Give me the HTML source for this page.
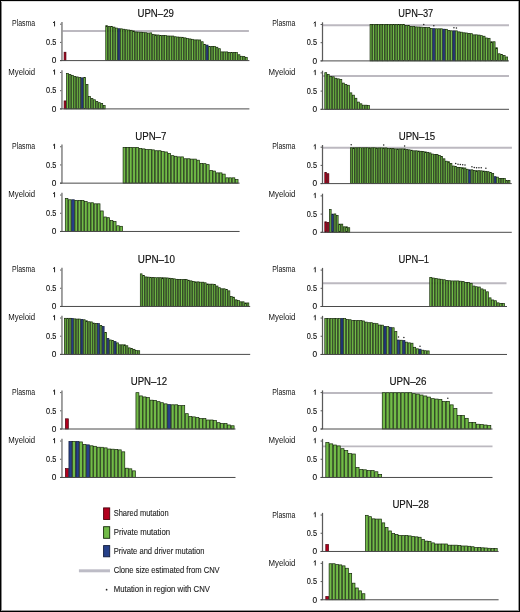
<!DOCTYPE html>
<html><head><meta charset="utf-8"><style>
html,body{margin:0;padding:0;background:#fff;}
body{width:520px;height:612px;overflow:hidden;position:relative;}
svg{display:block;font-family:"Liberation Sans", sans-serif;}
#c{will-change:transform;}
#f{position:absolute;left:0;top:0;}
</style></head><body>
<svg id="c" width="520" height="612" viewBox="0 0 520 612">

<g>
<rect x="0" y="0" width="520" height="612" fill="#fff"/>
<text x="155.7" y="16.8" text-anchor="middle" font-size="10" textLength="36.37" lengthAdjust="spacingAndGlyphs" fill="#111" stroke="#111" stroke-width="0.15">UPN–29</text>
<text x="35.2" y="25.9" text-anchor="end" font-size="8.5" textLength="23.2" lengthAdjust="spacingAndGlyphs" fill="#111">Plasma</text>
<path d="M54.55 21.45V26.4M54.65 21.5L53 22.9" fill="none" stroke="#1a1a1a" stroke-width="0.95"/>
<line x1="60.05" y1="24.2" x2="61.95" y2="24.2" stroke="#444" stroke-width="0.9"/>
<text x="56.3" y="45.15" text-anchor="end" font-size="8.3" fill="#111" stroke="#111" stroke-width="0.12" textLength="10.2" lengthAdjust="spacingAndGlyphs">0.5</text>
<line x1="60.05" y1="42.4" x2="61.95" y2="42.4" stroke="#444" stroke-width="0.9"/>
<text x="56.3" y="63.35" text-anchor="end" font-size="8.3" fill="#111" stroke="#111" stroke-width="0.12">0</text>
<line x1="60.05" y1="60.6" x2="61.95" y2="60.6" stroke="#444" stroke-width="0.9"/>
<line x1="62.45" y1="30.97" x2="248.9" y2="30.97" stroke="#bcb9c0" stroke-width="1.9"/>
<rect x="64.1" y="52.23" width="1.85" height="8.37" fill="#b2001e" stroke="#4a000c" stroke-width="0.7"/>
<rect x="105.75" y="25.66" width="1.85" height="34.94" fill="#72bb48" stroke="#132808" stroke-width="0.7"/>
<rect x="108.2" y="26.32" width="1.85" height="34.28" fill="#72bb48" stroke="#132808" stroke-width="0.7"/>
<rect x="110.65" y="26.61" width="1.85" height="33.99" fill="#72bb48" stroke="#132808" stroke-width="0.7"/>
<rect x="113.1" y="27.12" width="1.85" height="33.48" fill="#72bb48" stroke="#132808" stroke-width="0.7"/>
<rect x="115.55" y="28.06" width="1.85" height="32.54" fill="#72bb48" stroke="#132808" stroke-width="0.7"/>
<rect x="118" y="28.72" width="1.85" height="31.88" fill="#27418a" stroke="#101a3a" stroke-width="0.7"/>
<rect x="120.45" y="28.83" width="1.85" height="31.77" fill="#72bb48" stroke="#132808" stroke-width="0.7"/>
<rect x="122.9" y="29.23" width="1.85" height="31.37" fill="#72bb48" stroke="#132808" stroke-width="0.7"/>
<rect x="125.35" y="29.7" width="1.85" height="30.9" fill="#72bb48" stroke="#132808" stroke-width="0.7"/>
<rect x="127.8" y="29.99" width="1.85" height="30.61" fill="#72bb48" stroke="#132808" stroke-width="0.7"/>
<rect x="130.25" y="30.28" width="1.85" height="30.32" fill="#72bb48" stroke="#132808" stroke-width="0.7"/>
<rect x="132.7" y="30.94" width="1.85" height="29.66" fill="#72bb48" stroke="#132808" stroke-width="0.7"/>
<rect x="135.15" y="31.92" width="1.85" height="28.68" fill="#72bb48" stroke="#132808" stroke-width="0.7"/>
<rect x="137.6" y="32.1" width="1.85" height="28.5" fill="#72bb48" stroke="#132808" stroke-width="0.7"/>
<rect x="140.05" y="32.21" width="1.85" height="28.39" fill="#72bb48" stroke="#132808" stroke-width="0.7"/>
<rect x="142.5" y="32.58" width="1.85" height="28.02" fill="#72bb48" stroke="#132808" stroke-width="0.7"/>
<rect x="144.95" y="32.69" width="1.85" height="27.91" fill="#72bb48" stroke="#132808" stroke-width="0.7"/>
<rect x="147.4" y="33.05" width="1.85" height="27.55" fill="#72bb48" stroke="#132808" stroke-width="0.7"/>
<rect x="149.85" y="32.87" width="1.85" height="27.73" fill="#72bb48" stroke="#132808" stroke-width="0.7"/>
<rect x="152.3" y="34.32" width="1.85" height="26.28" fill="#72bb48" stroke="#132808" stroke-width="0.7"/>
<rect x="154.75" y="34.8" width="1.85" height="25.8" fill="#72bb48" stroke="#132808" stroke-width="0.7"/>
<rect x="157.2" y="34.98" width="1.85" height="25.62" fill="#72bb48" stroke="#132808" stroke-width="0.7"/>
<rect x="159.65" y="35.45" width="1.85" height="25.15" fill="#72bb48" stroke="#132808" stroke-width="0.7"/>
<rect x="162.1" y="35.56" width="1.85" height="25.04" fill="#72bb48" stroke="#132808" stroke-width="0.7"/>
<rect x="164.55" y="35.56" width="1.85" height="25.04" fill="#72bb48" stroke="#132808" stroke-width="0.7"/>
<rect x="167" y="35.96" width="1.85" height="24.64" fill="#72bb48" stroke="#132808" stroke-width="0.7"/>
<rect x="169.45" y="36.03" width="1.85" height="24.57" fill="#72bb48" stroke="#132808" stroke-width="0.7"/>
<rect x="171.9" y="36.03" width="1.85" height="24.57" fill="#72bb48" stroke="#132808" stroke-width="0.7"/>
<rect x="174.35" y="36.73" width="1.85" height="23.87" fill="#72bb48" stroke="#132808" stroke-width="0.7"/>
<rect x="176.8" y="37.02" width="1.85" height="23.58" fill="#72bb48" stroke="#132808" stroke-width="0.7"/>
<rect x="179.25" y="37.2" width="1.85" height="23.4" fill="#72bb48" stroke="#132808" stroke-width="0.7"/>
<rect x="181.7" y="37.31" width="1.85" height="23.29" fill="#72bb48" stroke="#132808" stroke-width="0.7"/>
<rect x="184.15" y="37.85" width="1.85" height="22.75" fill="#72bb48" stroke="#132808" stroke-width="0.7"/>
<rect x="186.6" y="38.62" width="1.85" height="21.98" fill="#72bb48" stroke="#132808" stroke-width="0.7"/>
<rect x="189.05" y="38.91" width="1.85" height="21.69" fill="#72bb48" stroke="#132808" stroke-width="0.7"/>
<rect x="191.5" y="39.31" width="1.85" height="21.29" fill="#72bb48" stroke="#132808" stroke-width="0.7"/>
<rect x="193.95" y="39.89" width="1.85" height="20.71" fill="#72bb48" stroke="#132808" stroke-width="0.7"/>
<rect x="196.4" y="39.89" width="1.85" height="20.71" fill="#72bb48" stroke="#132808" stroke-width="0.7"/>
<rect x="198.85" y="39.97" width="1.85" height="20.63" fill="#72bb48" stroke="#132808" stroke-width="0.7"/>
<rect x="201.3" y="41.75" width="1.85" height="18.85" fill="#72bb48" stroke="#132808" stroke-width="0.7"/>
<rect x="203.75" y="44.33" width="1.85" height="16.27" fill="#72bb48" stroke="#132808" stroke-width="0.7"/>
<rect x="206.2" y="45.06" width="1.85" height="15.54" fill="#27418a" stroke="#101a3a" stroke-width="0.7"/>
<rect x="208.65" y="46.41" width="1.85" height="14.19" fill="#72bb48" stroke="#132808" stroke-width="0.7"/>
<rect x="211.1" y="46.41" width="1.85" height="14.19" fill="#72bb48" stroke="#132808" stroke-width="0.7"/>
<rect x="213.55" y="46.41" width="1.85" height="14.19" fill="#72bb48" stroke="#132808" stroke-width="0.7"/>
<rect x="216" y="47.25" width="1.85" height="13.35" fill="#72bb48" stroke="#132808" stroke-width="0.7"/>
<rect x="218.45" y="48.7" width="1.85" height="11.9" fill="#72bb48" stroke="#132808" stroke-width="0.7"/>
<rect x="220.9" y="51.9" width="1.85" height="8.7" fill="#72bb48" stroke="#132808" stroke-width="0.7"/>
<rect x="223.35" y="51.9" width="1.85" height="8.7" fill="#72bb48" stroke="#132808" stroke-width="0.7"/>
<rect x="225.8" y="51.9" width="1.85" height="8.7" fill="#72bb48" stroke="#132808" stroke-width="0.7"/>
<rect x="228.25" y="52.45" width="1.85" height="8.15" fill="#72bb48" stroke="#132808" stroke-width="0.7"/>
<rect x="230.7" y="52.45" width="1.85" height="8.15" fill="#72bb48" stroke="#132808" stroke-width="0.7"/>
<rect x="233.15" y="52.45" width="1.85" height="8.15" fill="#72bb48" stroke="#132808" stroke-width="0.7"/>
<rect x="235.6" y="52.63" width="1.85" height="7.97" fill="#72bb48" stroke="#132808" stroke-width="0.7"/>
<rect x="238.05" y="54.74" width="1.85" height="5.86" fill="#72bb48" stroke="#132808" stroke-width="0.7"/>
<rect x="240.5" y="56.27" width="1.85" height="4.33" fill="#72bb48" stroke="#132808" stroke-width="0.7"/>
<rect x="242.95" y="56.6" width="1.85" height="4" fill="#72bb48" stroke="#132808" stroke-width="0.7"/>
<rect x="245.4" y="57.33" width="1.85" height="3.27" fill="#72bb48" stroke="#132808" stroke-width="0.7"/>
<line x1="61.95" y1="22" x2="61.95" y2="60.6" stroke="#8a8a8a" stroke-width="1.6"/>
<line x1="60.05" y1="60.6" x2="249.4" y2="60.6" stroke="#4a4a4a" stroke-width="1"/>
<text x="35.2" y="74.9" text-anchor="end" font-size="8.5" textLength="26.9" lengthAdjust="spacingAndGlyphs" fill="#111">Myeloid</text>
<path d="M54.55 69.75V74.7M54.65 69.8L53 71.2" fill="none" stroke="#1a1a1a" stroke-width="0.95"/>
<line x1="60.05" y1="72.5" x2="61.95" y2="72.5" stroke="#444" stroke-width="0.9"/>
<text x="56.3" y="93.45" text-anchor="end" font-size="8.3" fill="#111" stroke="#111" stroke-width="0.12" textLength="10.2" lengthAdjust="spacingAndGlyphs">0.5</text>
<line x1="60.05" y1="90.7" x2="61.95" y2="90.7" stroke="#444" stroke-width="0.9"/>
<text x="56.3" y="111.65" text-anchor="end" font-size="8.3" fill="#111" stroke="#111" stroke-width="0.12">0</text>
<line x1="60.05" y1="108.9" x2="61.95" y2="108.9" stroke="#444" stroke-width="0.9"/>
<rect x="64.1" y="100.92" width="1.85" height="7.98" fill="#b2001e" stroke="#4a000c" stroke-width="0.7"/>
<rect x="66.55" y="73.47" width="1.85" height="35.43" fill="#72bb48" stroke="#132808" stroke-width="0.7"/>
<rect x="69" y="74.64" width="1.85" height="34.26" fill="#72bb48" stroke="#132808" stroke-width="0.7"/>
<rect x="71.45" y="75.33" width="1.85" height="33.57" fill="#72bb48" stroke="#132808" stroke-width="0.7"/>
<rect x="73.9" y="76.46" width="1.85" height="32.44" fill="#72bb48" stroke="#132808" stroke-width="0.7"/>
<rect x="76.35" y="76.93" width="1.85" height="31.97" fill="#72bb48" stroke="#132808" stroke-width="0.7"/>
<rect x="78.8" y="77.51" width="1.85" height="31.39" fill="#72bb48" stroke="#132808" stroke-width="0.7"/>
<rect x="81.25" y="77.84" width="1.85" height="31.06" fill="#27418a" stroke="#101a3a" stroke-width="0.7"/>
<rect x="83.7" y="77.62" width="1.85" height="31.28" fill="#72bb48" stroke="#132808" stroke-width="0.7"/>
<rect x="86.15" y="84.54" width="1.85" height="24.36" fill="#72bb48" stroke="#132808" stroke-width="0.7"/>
<rect x="88.6" y="96.55" width="1.85" height="12.35" fill="#72bb48" stroke="#132808" stroke-width="0.7"/>
<rect x="91.05" y="98.63" width="1.85" height="10.27" fill="#72bb48" stroke="#132808" stroke-width="0.7"/>
<rect x="93.5" y="99.79" width="1.85" height="9.11" fill="#72bb48" stroke="#132808" stroke-width="0.7"/>
<rect x="95.95" y="101.5" width="1.85" height="7.4" fill="#72bb48" stroke="#132808" stroke-width="0.7"/>
<rect x="98.4" y="102.67" width="1.85" height="6.23" fill="#72bb48" stroke="#132808" stroke-width="0.7"/>
<rect x="100.85" y="103.47" width="1.85" height="5.43" fill="#72bb48" stroke="#132808" stroke-width="0.7"/>
<rect x="103.3" y="105.54" width="1.85" height="3.36" fill="#72bb48" stroke="#132808" stroke-width="0.7"/>
<line x1="61.95" y1="70.3" x2="61.95" y2="108.9" stroke="#8a8a8a" stroke-width="1.6"/>
<line x1="60.05" y1="108.9" x2="249.4" y2="108.9" stroke="#4a4a4a" stroke-width="1"/>
<text x="150.8" y="139.8" text-anchor="middle" font-size="10" textLength="31.2" lengthAdjust="spacingAndGlyphs" fill="#111" stroke="#111" stroke-width="0.15">UPN–7</text>
<text x="35.2" y="148.9" text-anchor="end" font-size="8.5" textLength="23.2" lengthAdjust="spacingAndGlyphs" fill="#111">Plasma</text>
<path d="M54.55 144V148.95M54.65 144.05L53 145.45" fill="none" stroke="#1a1a1a" stroke-width="0.95"/>
<line x1="60.05" y1="146.75" x2="61.95" y2="146.75" stroke="#444" stroke-width="0.9"/>
<text x="56.3" y="167.7" text-anchor="end" font-size="8.3" fill="#111" stroke="#111" stroke-width="0.12" textLength="10.2" lengthAdjust="spacingAndGlyphs">0.5</text>
<line x1="60.05" y1="164.95" x2="61.95" y2="164.95" stroke="#444" stroke-width="0.9"/>
<text x="56.3" y="185.9" text-anchor="end" font-size="8.3" fill="#111" stroke="#111" stroke-width="0.12">0</text>
<line x1="60.05" y1="183.15" x2="61.95" y2="183.15" stroke="#444" stroke-width="0.9"/>
<rect x="123.08" y="147.39" width="2.61" height="35.76" fill="#72bb48" stroke="#132808" stroke-width="0.7"/>
<rect x="126.29" y="147.39" width="2.61" height="35.76" fill="#72bb48" stroke="#132808" stroke-width="0.7"/>
<rect x="129.5" y="147.39" width="2.61" height="35.76" fill="#72bb48" stroke="#132808" stroke-width="0.7"/>
<rect x="132.71" y="147.39" width="2.61" height="35.76" fill="#72bb48" stroke="#132808" stroke-width="0.7"/>
<rect x="135.92" y="147.39" width="2.61" height="35.76" fill="#72bb48" stroke="#132808" stroke-width="0.7"/>
<rect x="139.13" y="148.52" width="2.61" height="34.63" fill="#72bb48" stroke="#132808" stroke-width="0.7"/>
<rect x="142.34" y="148.88" width="2.61" height="34.27" fill="#72bb48" stroke="#132808" stroke-width="0.7"/>
<rect x="145.55" y="149.5" width="2.61" height="33.65" fill="#72bb48" stroke="#132808" stroke-width="0.7"/>
<rect x="148.76" y="149.5" width="2.61" height="33.65" fill="#72bb48" stroke="#132808" stroke-width="0.7"/>
<rect x="151.97" y="149.87" width="2.61" height="33.28" fill="#72bb48" stroke="#132808" stroke-width="0.7"/>
<rect x="155.18" y="150.74" width="2.61" height="32.41" fill="#72bb48" stroke="#132808" stroke-width="0.7"/>
<rect x="158.39" y="150.74" width="2.61" height="32.41" fill="#72bb48" stroke="#132808" stroke-width="0.7"/>
<rect x="161.6" y="151.58" width="2.61" height="31.57" fill="#72bb48" stroke="#132808" stroke-width="0.7"/>
<rect x="164.81" y="151.98" width="2.61" height="31.17" fill="#72bb48" stroke="#132808" stroke-width="0.7"/>
<rect x="168.02" y="153.58" width="2.61" height="29.57" fill="#72bb48" stroke="#132808" stroke-width="0.7"/>
<rect x="171.23" y="155.65" width="2.61" height="27.5" fill="#72bb48" stroke="#132808" stroke-width="0.7"/>
<rect x="174.44" y="156.27" width="2.61" height="26.88" fill="#72bb48" stroke="#132808" stroke-width="0.7"/>
<rect x="177.65" y="156.89" width="2.61" height="26.26" fill="#72bb48" stroke="#132808" stroke-width="0.7"/>
<rect x="180.86" y="156.89" width="2.61" height="26.26" fill="#72bb48" stroke="#132808" stroke-width="0.7"/>
<rect x="184.07" y="158.75" width="2.61" height="24.4" fill="#72bb48" stroke="#132808" stroke-width="0.7"/>
<rect x="187.28" y="158.75" width="2.61" height="24.4" fill="#72bb48" stroke="#132808" stroke-width="0.7"/>
<rect x="190.49" y="159.11" width="2.61" height="24.04" fill="#72bb48" stroke="#132808" stroke-width="0.7"/>
<rect x="193.7" y="159.11" width="2.61" height="24.04" fill="#72bb48" stroke="#132808" stroke-width="0.7"/>
<rect x="196.91" y="160.2" width="2.61" height="22.95" fill="#72bb48" stroke="#132808" stroke-width="0.7"/>
<rect x="200.12" y="163.41" width="2.61" height="19.74" fill="#72bb48" stroke="#132808" stroke-width="0.7"/>
<rect x="203.33" y="163.66" width="2.61" height="19.49" fill="#72bb48" stroke="#132808" stroke-width="0.7"/>
<rect x="206.54" y="164.65" width="2.61" height="18.5" fill="#72bb48" stroke="#132808" stroke-width="0.7"/>
<rect x="209.75" y="170.43" width="2.61" height="12.72" fill="#72bb48" stroke="#132808" stroke-width="0.7"/>
<rect x="212.96" y="171.05" width="2.61" height="12.1" fill="#72bb48" stroke="#132808" stroke-width="0.7"/>
<rect x="216.17" y="172.87" width="2.61" height="10.28" fill="#72bb48" stroke="#132808" stroke-width="0.7"/>
<rect x="219.38" y="172.87" width="2.61" height="10.28" fill="#72bb48" stroke="#132808" stroke-width="0.7"/>
<rect x="222.59" y="174.11" width="2.61" height="9.04" fill="#72bb48" stroke="#132808" stroke-width="0.7"/>
<rect x="225.8" y="177.82" width="2.61" height="5.33" fill="#72bb48" stroke="#132808" stroke-width="0.7"/>
<rect x="229.01" y="177.82" width="2.61" height="5.33" fill="#72bb48" stroke="#132808" stroke-width="0.7"/>
<rect x="232.22" y="177.82" width="2.61" height="5.33" fill="#72bb48" stroke="#132808" stroke-width="0.7"/>
<rect x="235.43" y="179.64" width="2.61" height="3.51" fill="#72bb48" stroke="#132808" stroke-width="0.7"/>
<line x1="61.95" y1="144.55" x2="61.95" y2="183.15" stroke="#8a8a8a" stroke-width="1.6"/>
<line x1="60.05" y1="183.15" x2="239.6" y2="183.15" stroke="#4a4a4a" stroke-width="1"/>
<text x="35.2" y="196.9" text-anchor="end" font-size="8.5" textLength="26.9" lengthAdjust="spacingAndGlyphs" fill="#111">Myeloid</text>
<path d="M54.55 192.31V197.26M54.65 192.36L53 193.76" fill="none" stroke="#1a1a1a" stroke-width="0.95"/>
<line x1="60.05" y1="195.06" x2="61.95" y2="195.06" stroke="#444" stroke-width="0.9"/>
<text x="56.3" y="216.01" text-anchor="end" font-size="8.3" fill="#111" stroke="#111" stroke-width="0.12" textLength="10.2" lengthAdjust="spacingAndGlyphs">0.5</text>
<line x1="60.05" y1="213.26" x2="61.95" y2="213.26" stroke="#444" stroke-width="0.9"/>
<text x="56.3" y="234.21" text-anchor="end" font-size="8.3" fill="#111" stroke="#111" stroke-width="0.12">0</text>
<line x1="60.05" y1="231.46" x2="61.95" y2="231.46" stroke="#444" stroke-width="0.9"/>
<rect x="65.3" y="198.42" width="2.61" height="33.04" fill="#72bb48" stroke="#132808" stroke-width="0.7"/>
<rect x="68.51" y="199.77" width="2.61" height="31.69" fill="#72bb48" stroke="#132808" stroke-width="0.7"/>
<rect x="71.72" y="199.77" width="2.61" height="31.69" fill="#27418a" stroke="#101a3a" stroke-width="0.7"/>
<rect x="74.93" y="200.46" width="2.61" height="31" fill="#72bb48" stroke="#132808" stroke-width="0.7"/>
<rect x="78.14" y="200.46" width="2.61" height="31" fill="#72bb48" stroke="#132808" stroke-width="0.7"/>
<rect x="81.35" y="200.46" width="2.61" height="31" fill="#72bb48" stroke="#132808" stroke-width="0.7"/>
<rect x="84.56" y="201.52" width="2.61" height="29.94" fill="#72bb48" stroke="#132808" stroke-width="0.7"/>
<rect x="87.77" y="202.75" width="2.61" height="28.71" fill="#72bb48" stroke="#132808" stroke-width="0.7"/>
<rect x="90.98" y="202.75" width="2.61" height="28.71" fill="#72bb48" stroke="#132808" stroke-width="0.7"/>
<rect x="94.19" y="203.81" width="2.61" height="27.65" fill="#72bb48" stroke="#132808" stroke-width="0.7"/>
<rect x="97.4" y="203.81" width="2.61" height="27.65" fill="#72bb48" stroke="#132808" stroke-width="0.7"/>
<rect x="100.61" y="210.94" width="2.61" height="20.52" fill="#72bb48" stroke="#132808" stroke-width="0.7"/>
<rect x="103.82" y="216.99" width="2.61" height="14.47" fill="#72bb48" stroke="#132808" stroke-width="0.7"/>
<rect x="107.03" y="217.68" width="2.61" height="13.78" fill="#72bb48" stroke="#132808" stroke-width="0.7"/>
<rect x="110.24" y="220.63" width="2.61" height="10.83" fill="#72bb48" stroke="#132808" stroke-width="0.7"/>
<rect x="113.45" y="221.57" width="2.61" height="9.89" fill="#72bb48" stroke="#132808" stroke-width="0.7"/>
<rect x="116.66" y="225.76" width="2.61" height="5.7" fill="#72bb48" stroke="#132808" stroke-width="0.7"/>
<rect x="119.87" y="226.3" width="2.61" height="5.16" fill="#72bb48" stroke="#132808" stroke-width="0.7"/>
<line x1="61.95" y1="192.86" x2="61.95" y2="231.46" stroke="#8a8a8a" stroke-width="1.6"/>
<line x1="60.05" y1="231.46" x2="239.6" y2="231.46" stroke="#4a4a4a" stroke-width="1"/>
<text x="156.4" y="262.8" text-anchor="middle" font-size="10" textLength="37.18" lengthAdjust="spacingAndGlyphs" fill="#111" stroke="#111" stroke-width="0.15">UPN–10</text>
<text x="35.2" y="271.9" text-anchor="end" font-size="8.5" textLength="23.2" lengthAdjust="spacingAndGlyphs" fill="#111">Plasma</text>
<path d="M54.55 267.31V272.26M54.65 267.36L53 268.76" fill="none" stroke="#1a1a1a" stroke-width="0.95"/>
<line x1="60.05" y1="270.06" x2="61.95" y2="270.06" stroke="#444" stroke-width="0.9"/>
<text x="56.3" y="291.01" text-anchor="end" font-size="8.3" fill="#111" stroke="#111" stroke-width="0.12" textLength="10.2" lengthAdjust="spacingAndGlyphs">0.5</text>
<line x1="60.05" y1="288.26" x2="61.95" y2="288.26" stroke="#444" stroke-width="0.9"/>
<text x="56.3" y="309.21" text-anchor="end" font-size="8.3" fill="#111" stroke="#111" stroke-width="0.12">0</text>
<line x1="60.05" y1="306.46" x2="61.95" y2="306.46" stroke="#444" stroke-width="0.9"/>
<rect x="140.3" y="273.85" width="1.77" height="32.61" fill="#72bb48" stroke="#132808" stroke-width="0.7"/>
<rect x="142.68" y="275.6" width="1.77" height="30.86" fill="#72bb48" stroke="#132808" stroke-width="0.7"/>
<rect x="145.05" y="276.91" width="1.77" height="29.55" fill="#72bb48" stroke="#132808" stroke-width="0.7"/>
<rect x="147.42" y="277.13" width="1.77" height="29.33" fill="#72bb48" stroke="#132808" stroke-width="0.7"/>
<rect x="149.79" y="277.31" width="1.77" height="29.15" fill="#72bb48" stroke="#132808" stroke-width="0.7"/>
<rect x="152.16" y="277.46" width="1.77" height="29" fill="#72bb48" stroke="#132808" stroke-width="0.7"/>
<rect x="154.54" y="277.68" width="1.77" height="28.78" fill="#72bb48" stroke="#132808" stroke-width="0.7"/>
<rect x="156.91" y="277.68" width="1.77" height="28.78" fill="#72bb48" stroke="#132808" stroke-width="0.7"/>
<rect x="159.28" y="277.68" width="1.77" height="28.78" fill="#72bb48" stroke="#132808" stroke-width="0.7"/>
<rect x="161.65" y="277.68" width="1.77" height="28.78" fill="#72bb48" stroke="#132808" stroke-width="0.7"/>
<rect x="164.02" y="277.82" width="1.77" height="28.64" fill="#72bb48" stroke="#132808" stroke-width="0.7"/>
<rect x="166.4" y="277.93" width="1.77" height="28.53" fill="#72bb48" stroke="#132808" stroke-width="0.7"/>
<rect x="168.77" y="278.22" width="1.77" height="28.24" fill="#72bb48" stroke="#132808" stroke-width="0.7"/>
<rect x="171.14" y="278.62" width="1.77" height="27.84" fill="#72bb48" stroke="#132808" stroke-width="0.7"/>
<rect x="173.51" y="278.84" width="1.77" height="27.62" fill="#72bb48" stroke="#132808" stroke-width="0.7"/>
<rect x="175.88" y="279.31" width="1.77" height="27.15" fill="#72bb48" stroke="#132808" stroke-width="0.7"/>
<rect x="178.26" y="279.53" width="1.77" height="26.93" fill="#72bb48" stroke="#132808" stroke-width="0.7"/>
<rect x="180.63" y="279.53" width="1.77" height="26.93" fill="#72bb48" stroke="#132808" stroke-width="0.7"/>
<rect x="183" y="279.53" width="1.77" height="26.93" fill="#72bb48" stroke="#132808" stroke-width="0.7"/>
<rect x="185.37" y="279.53" width="1.77" height="26.93" fill="#72bb48" stroke="#132808" stroke-width="0.7"/>
<rect x="187.74" y="280.22" width="1.77" height="26.24" fill="#72bb48" stroke="#132808" stroke-width="0.7"/>
<rect x="190.12" y="280.84" width="1.77" height="25.62" fill="#72bb48" stroke="#132808" stroke-width="0.7"/>
<rect x="192.49" y="281.39" width="1.77" height="25.07" fill="#72bb48" stroke="#132808" stroke-width="0.7"/>
<rect x="194.86" y="281.86" width="1.77" height="24.6" fill="#72bb48" stroke="#132808" stroke-width="0.7"/>
<rect x="197.23" y="281.86" width="1.77" height="24.6" fill="#72bb48" stroke="#132808" stroke-width="0.7"/>
<rect x="199.6" y="282.19" width="1.77" height="24.27" fill="#72bb48" stroke="#132808" stroke-width="0.7"/>
<rect x="201.98" y="282.19" width="1.77" height="24.27" fill="#72bb48" stroke="#132808" stroke-width="0.7"/>
<rect x="204.35" y="282.77" width="1.77" height="23.69" fill="#72bb48" stroke="#132808" stroke-width="0.7"/>
<rect x="206.72" y="283.94" width="1.77" height="22.52" fill="#72bb48" stroke="#132808" stroke-width="0.7"/>
<rect x="209.09" y="284.16" width="1.77" height="22.3" fill="#72bb48" stroke="#132808" stroke-width="0.7"/>
<rect x="211.46" y="284.16" width="1.77" height="22.3" fill="#72bb48" stroke="#132808" stroke-width="0.7"/>
<rect x="213.84" y="284.48" width="1.77" height="21.98" fill="#72bb48" stroke="#132808" stroke-width="0.7"/>
<rect x="216.21" y="286.01" width="1.77" height="20.45" fill="#72bb48" stroke="#132808" stroke-width="0.7"/>
<rect x="218.58" y="287.72" width="1.77" height="18.74" fill="#72bb48" stroke="#132808" stroke-width="0.7"/>
<rect x="220.95" y="288.78" width="1.77" height="17.68" fill="#72bb48" stroke="#132808" stroke-width="0.7"/>
<rect x="223.32" y="288.78" width="1.77" height="17.68" fill="#72bb48" stroke="#132808" stroke-width="0.7"/>
<rect x="225.7" y="289.47" width="1.77" height="16.99" fill="#72bb48" stroke="#132808" stroke-width="0.7"/>
<rect x="228.07" y="290.85" width="1.77" height="15.61" fill="#72bb48" stroke="#132808" stroke-width="0.7"/>
<rect x="230.44" y="296.6" width="1.77" height="9.86" fill="#72bb48" stroke="#132808" stroke-width="0.7"/>
<rect x="232.81" y="297.19" width="1.77" height="9.27" fill="#72bb48" stroke="#132808" stroke-width="0.7"/>
<rect x="235.18" y="299.84" width="1.77" height="6.62" fill="#72bb48" stroke="#132808" stroke-width="0.7"/>
<rect x="237.56" y="300.64" width="1.77" height="5.82" fill="#72bb48" stroke="#132808" stroke-width="0.7"/>
<rect x="239.93" y="301.81" width="1.77" height="4.65" fill="#72bb48" stroke="#132808" stroke-width="0.7"/>
<rect x="242.3" y="301.81" width="1.77" height="4.65" fill="#72bb48" stroke="#132808" stroke-width="0.7"/>
<rect x="244.67" y="302.94" width="1.77" height="3.52" fill="#72bb48" stroke="#132808" stroke-width="0.7"/>
<rect x="247.04" y="302.94" width="1.77" height="3.52" fill="#72bb48" stroke="#132808" stroke-width="0.7"/>
<line x1="61.95" y1="267.86" x2="61.95" y2="306.46" stroke="#8a8a8a" stroke-width="1.6"/>
<line x1="60.05" y1="306.46" x2="250.2" y2="306.46" stroke="#4a4a4a" stroke-width="1"/>
<text x="35.2" y="319.9" text-anchor="end" font-size="8.5" textLength="26.9" lengthAdjust="spacingAndGlyphs" fill="#111">Myeloid</text>
<path d="M54.55 315.25V320.2M54.65 315.3L53 316.7" fill="none" stroke="#1a1a1a" stroke-width="0.95"/>
<line x1="60.05" y1="318" x2="61.95" y2="318" stroke="#444" stroke-width="0.9"/>
<text x="56.3" y="338.95" text-anchor="end" font-size="8.3" fill="#111" stroke="#111" stroke-width="0.12" textLength="10.2" lengthAdjust="spacingAndGlyphs">0.5</text>
<line x1="60.05" y1="336.2" x2="61.95" y2="336.2" stroke="#444" stroke-width="0.9"/>
<text x="56.3" y="357.15" text-anchor="end" font-size="8.3" fill="#111" stroke="#111" stroke-width="0.12">0</text>
<line x1="60.05" y1="354.4" x2="61.95" y2="354.4" stroke="#444" stroke-width="0.9"/>
<rect x="64.4" y="318.3" width="1.77" height="36.1" fill="#72bb48" stroke="#132808" stroke-width="0.7"/>
<rect x="66.77" y="318.3" width="1.77" height="36.1" fill="#72bb48" stroke="#132808" stroke-width="0.7"/>
<rect x="69.14" y="318.3" width="1.77" height="36.1" fill="#72bb48" stroke="#132808" stroke-width="0.7"/>
<rect x="71.52" y="318.45" width="1.77" height="35.95" fill="#27418a" stroke="#101a3a" stroke-width="0.7"/>
<rect x="73.89" y="318.85" width="1.77" height="35.55" fill="#72bb48" stroke="#132808" stroke-width="0.7"/>
<rect x="76.26" y="319.06" width="1.77" height="35.34" fill="#72bb48" stroke="#132808" stroke-width="0.7"/>
<rect x="78.63" y="319.06" width="1.77" height="35.34" fill="#72bb48" stroke="#132808" stroke-width="0.7"/>
<rect x="81" y="319.47" width="1.77" height="34.93" fill="#27418a" stroke="#101a3a" stroke-width="0.7"/>
<rect x="83.38" y="319.76" width="1.77" height="34.64" fill="#72bb48" stroke="#132808" stroke-width="0.7"/>
<rect x="85.75" y="320.78" width="1.77" height="33.62" fill="#72bb48" stroke="#132808" stroke-width="0.7"/>
<rect x="88.12" y="321.69" width="1.77" height="32.71" fill="#72bb48" stroke="#132808" stroke-width="0.7"/>
<rect x="90.49" y="321.9" width="1.77" height="32.5" fill="#72bb48" stroke="#132808" stroke-width="0.7"/>
<rect x="92.86" y="323.07" width="1.77" height="31.33" fill="#72bb48" stroke="#132808" stroke-width="0.7"/>
<rect x="95.24" y="323.65" width="1.77" height="30.75" fill="#72bb48" stroke="#132808" stroke-width="0.7"/>
<rect x="97.61" y="323.65" width="1.77" height="30.75" fill="#27418a" stroke="#101a3a" stroke-width="0.7"/>
<rect x="99.98" y="325.54" width="1.77" height="28.86" fill="#72bb48" stroke="#132808" stroke-width="0.7"/>
<rect x="102.35" y="326.53" width="1.77" height="27.87" fill="#27418a" stroke="#101a3a" stroke-width="0.7"/>
<rect x="104.72" y="332.46" width="1.77" height="21.94" fill="#72bb48" stroke="#132808" stroke-width="0.7"/>
<rect x="107.1" y="338.43" width="1.77" height="15.97" fill="#27418a" stroke="#101a3a" stroke-width="0.7"/>
<rect x="109.47" y="339.96" width="1.77" height="14.44" fill="#72bb48" stroke="#132808" stroke-width="0.7"/>
<rect x="111.84" y="340.47" width="1.77" height="13.93" fill="#72bb48" stroke="#132808" stroke-width="0.7"/>
<rect x="114.21" y="341.6" width="1.77" height="12.8" fill="#27418a" stroke="#101a3a" stroke-width="0.7"/>
<rect x="116.58" y="342.87" width="1.77" height="11.53" fill="#72bb48" stroke="#132808" stroke-width="0.7"/>
<rect x="118.96" y="344.8" width="1.77" height="9.6" fill="#72bb48" stroke="#132808" stroke-width="0.7"/>
<rect x="121.33" y="344.8" width="1.77" height="9.6" fill="#72bb48" stroke="#132808" stroke-width="0.7"/>
<rect x="123.7" y="344.8" width="1.77" height="9.6" fill="#72bb48" stroke="#132808" stroke-width="0.7"/>
<rect x="126.07" y="345.75" width="1.77" height="8.65" fill="#72bb48" stroke="#132808" stroke-width="0.7"/>
<rect x="128.44" y="347.86" width="1.77" height="6.54" fill="#72bb48" stroke="#132808" stroke-width="0.7"/>
<rect x="130.82" y="348.62" width="1.77" height="5.78" fill="#72bb48" stroke="#132808" stroke-width="0.7"/>
<rect x="133.19" y="349.31" width="1.77" height="5.09" fill="#72bb48" stroke="#132808" stroke-width="0.7"/>
<rect x="135.56" y="350.55" width="1.77" height="3.85" fill="#72bb48" stroke="#132808" stroke-width="0.7"/>
<rect x="137.93" y="350.73" width="1.77" height="3.67" fill="#72bb48" stroke="#132808" stroke-width="0.7"/>
<line x1="61.95" y1="315.8" x2="61.95" y2="354.4" stroke="#8a8a8a" stroke-width="1.6"/>
<line x1="60.05" y1="354.4" x2="250.2" y2="354.4" stroke="#4a4a4a" stroke-width="1"/>
<text x="148.95" y="384.8" text-anchor="middle" font-size="10" textLength="36.47" lengthAdjust="spacingAndGlyphs" fill="#111" stroke="#111" stroke-width="0.15">UPN–12</text>
<text x="35.2" y="394.9" text-anchor="end" font-size="8.5" textLength="23.2" lengthAdjust="spacingAndGlyphs" fill="#111">Plasma</text>
<path d="M54.55 389.85V394.8M54.65 389.9L53 391.3" fill="none" stroke="#1a1a1a" stroke-width="0.95"/>
<line x1="60.05" y1="392.6" x2="61.95" y2="392.6" stroke="#444" stroke-width="0.9"/>
<text x="56.3" y="413.55" text-anchor="end" font-size="8.3" fill="#111" stroke="#111" stroke-width="0.12" textLength="10.2" lengthAdjust="spacingAndGlyphs">0.5</text>
<line x1="60.05" y1="410.8" x2="61.95" y2="410.8" stroke="#444" stroke-width="0.9"/>
<text x="56.3" y="431.75" text-anchor="end" font-size="8.3" fill="#111" stroke="#111" stroke-width="0.12">0</text>
<line x1="60.05" y1="429" x2="61.95" y2="429" stroke="#444" stroke-width="0.9"/>
<rect x="65.4" y="418.81" width="2.93" height="10.19" fill="#b2001e" stroke="#4a000c" stroke-width="0.7"/>
<rect x="135.94" y="392.67" width="2.93" height="36.33" fill="#72bb48" stroke="#132808" stroke-width="0.7"/>
<rect x="139.47" y="395.91" width="2.93" height="33.09" fill="#72bb48" stroke="#132808" stroke-width="0.7"/>
<rect x="142.99" y="396.93" width="2.93" height="32.07" fill="#72bb48" stroke="#132808" stroke-width="0.7"/>
<rect x="146.52" y="397.62" width="2.93" height="31.38" fill="#72bb48" stroke="#132808" stroke-width="0.7"/>
<rect x="150.05" y="400.17" width="2.93" height="28.83" fill="#72bb48" stroke="#132808" stroke-width="0.7"/>
<rect x="153.57" y="400.39" width="2.93" height="28.61" fill="#72bb48" stroke="#132808" stroke-width="0.7"/>
<rect x="157.1" y="401.66" width="2.93" height="27.34" fill="#72bb48" stroke="#132808" stroke-width="0.7"/>
<rect x="160.63" y="402.72" width="2.93" height="26.28" fill="#72bb48" stroke="#132808" stroke-width="0.7"/>
<rect x="164.16" y="403.85" width="2.93" height="25.15" fill="#72bb48" stroke="#132808" stroke-width="0.7"/>
<rect x="167.68" y="404.54" width="2.93" height="24.46" fill="#27418a" stroke="#101a3a" stroke-width="0.7"/>
<rect x="171.21" y="404.79" width="2.93" height="24.21" fill="#72bb48" stroke="#132808" stroke-width="0.7"/>
<rect x="174.74" y="404.79" width="2.93" height="24.21" fill="#72bb48" stroke="#132808" stroke-width="0.7"/>
<rect x="178.26" y="405.59" width="2.93" height="23.41" fill="#72bb48" stroke="#132808" stroke-width="0.7"/>
<rect x="181.79" y="405.59" width="2.93" height="23.41" fill="#72bb48" stroke="#132808" stroke-width="0.7"/>
<rect x="185.32" y="413.68" width="2.93" height="15.32" fill="#72bb48" stroke="#132808" stroke-width="0.7"/>
<rect x="188.85" y="416.55" width="2.93" height="12.45" fill="#72bb48" stroke="#132808" stroke-width="0.7"/>
<rect x="192.37" y="416.88" width="2.93" height="12.12" fill="#72bb48" stroke="#132808" stroke-width="0.7"/>
<rect x="195.9" y="417.46" width="2.93" height="11.54" fill="#72bb48" stroke="#132808" stroke-width="0.7"/>
<rect x="199.43" y="418.63" width="2.93" height="10.37" fill="#72bb48" stroke="#132808" stroke-width="0.7"/>
<rect x="202.95" y="418.63" width="2.93" height="10.37" fill="#72bb48" stroke="#132808" stroke-width="0.7"/>
<rect x="206.48" y="420.01" width="2.93" height="8.99" fill="#72bb48" stroke="#132808" stroke-width="0.7"/>
<rect x="210.01" y="420.01" width="2.93" height="8.99" fill="#72bb48" stroke="#132808" stroke-width="0.7"/>
<rect x="213.53" y="420.59" width="2.93" height="8.41" fill="#72bb48" stroke="#132808" stroke-width="0.7"/>
<rect x="217.06" y="422.67" width="2.93" height="6.33" fill="#72bb48" stroke="#132808" stroke-width="0.7"/>
<rect x="220.59" y="423.47" width="2.93" height="5.53" fill="#72bb48" stroke="#132808" stroke-width="0.7"/>
<rect x="224.12" y="423.47" width="2.93" height="5.53" fill="#72bb48" stroke="#132808" stroke-width="0.7"/>
<rect x="227.64" y="424.96" width="2.93" height="4.04" fill="#72bb48" stroke="#132808" stroke-width="0.7"/>
<rect x="231.17" y="425.76" width="2.93" height="3.24" fill="#72bb48" stroke="#132808" stroke-width="0.7"/>
<line x1="61.95" y1="390.4" x2="61.95" y2="429" stroke="#8a8a8a" stroke-width="1.6"/>
<line x1="60.05" y1="429" x2="235.5" y2="429" stroke="#4a4a4a" stroke-width="1"/>
<text x="35.2" y="442.9" text-anchor="end" font-size="8.5" textLength="26.9" lengthAdjust="spacingAndGlyphs" fill="#111">Myeloid</text>
<path d="M54.55 438.31V443.26M54.65 438.36L53 439.76" fill="none" stroke="#1a1a1a" stroke-width="0.95"/>
<line x1="60.05" y1="441.06" x2="61.95" y2="441.06" stroke="#444" stroke-width="0.9"/>
<text x="56.3" y="462.01" text-anchor="end" font-size="8.3" fill="#111" stroke="#111" stroke-width="0.12" textLength="10.2" lengthAdjust="spacingAndGlyphs">0.5</text>
<line x1="60.05" y1="459.26" x2="61.95" y2="459.26" stroke="#444" stroke-width="0.9"/>
<text x="56.3" y="480.21" text-anchor="end" font-size="8.3" fill="#111" stroke="#111" stroke-width="0.12">0</text>
<line x1="60.05" y1="477.46" x2="61.95" y2="477.46" stroke="#444" stroke-width="0.9"/>
<rect x="65.4" y="468.58" width="2.93" height="8.88" fill="#b2001e" stroke="#4a000c" stroke-width="0.7"/>
<rect x="68.93" y="441.42" width="2.93" height="36.04" fill="#27418a" stroke="#101a3a" stroke-width="0.7"/>
<rect x="72.45" y="441.42" width="2.93" height="36.04" fill="#72bb48" stroke="#132808" stroke-width="0.7"/>
<rect x="75.98" y="441.42" width="2.93" height="36.04" fill="#27418a" stroke="#101a3a" stroke-width="0.7"/>
<rect x="79.51" y="441.93" width="2.93" height="35.53" fill="#72bb48" stroke="#132808" stroke-width="0.7"/>
<rect x="83.03" y="444.48" width="2.93" height="32.98" fill="#72bb48" stroke="#132808" stroke-width="0.7"/>
<rect x="86.56" y="444.85" width="2.93" height="32.61" fill="#27418a" stroke="#101a3a" stroke-width="0.7"/>
<rect x="90.09" y="445.79" width="2.93" height="31.67" fill="#72bb48" stroke="#132808" stroke-width="0.7"/>
<rect x="93.62" y="446.3" width="2.93" height="31.16" fill="#72bb48" stroke="#132808" stroke-width="0.7"/>
<rect x="97.14" y="447.21" width="2.93" height="30.25" fill="#72bb48" stroke="#132808" stroke-width="0.7"/>
<rect x="100.67" y="447.28" width="2.93" height="30.18" fill="#72bb48" stroke="#132808" stroke-width="0.7"/>
<rect x="104.2" y="447.87" width="2.93" height="29.59" fill="#72bb48" stroke="#132808" stroke-width="0.7"/>
<rect x="107.72" y="449" width="2.93" height="28.46" fill="#72bb48" stroke="#132808" stroke-width="0.7"/>
<rect x="111.25" y="449.18" width="2.93" height="28.28" fill="#72bb48" stroke="#132808" stroke-width="0.7"/>
<rect x="114.78" y="449.43" width="2.93" height="28.03" fill="#72bb48" stroke="#132808" stroke-width="0.7"/>
<rect x="118.3" y="449.87" width="2.93" height="27.59" fill="#72bb48" stroke="#132808" stroke-width="0.7"/>
<rect x="121.83" y="451.83" width="2.93" height="25.63" fill="#72bb48" stroke="#132808" stroke-width="0.7"/>
<rect x="125.36" y="468.21" width="2.93" height="9.25" fill="#72bb48" stroke="#132808" stroke-width="0.7"/>
<rect x="128.89" y="468.83" width="2.93" height="8.63" fill="#72bb48" stroke="#132808" stroke-width="0.7"/>
<rect x="132.41" y="470.84" width="2.93" height="6.62" fill="#72bb48" stroke="#132808" stroke-width="0.7"/>
<line x1="61.95" y1="438.86" x2="61.95" y2="477.46" stroke="#8a8a8a" stroke-width="1.6"/>
<line x1="60.05" y1="477.46" x2="235.5" y2="477.46" stroke="#4a4a4a" stroke-width="1"/>
<text x="415.8" y="16.8" text-anchor="middle" font-size="10" textLength="34.94" lengthAdjust="spacingAndGlyphs" fill="#111" stroke="#111" stroke-width="0.15">UPN–37</text>
<text x="295.4" y="25.9" text-anchor="end" font-size="8.5" textLength="23.2" lengthAdjust="spacingAndGlyphs" fill="#111">Plasma</text>
<path d="M315.25 21.75V26.7M315.35 21.8L313.7 23.2" fill="none" stroke="#1a1a1a" stroke-width="0.95"/>
<line x1="320.6" y1="24.5" x2="322.5" y2="24.5" stroke="#444" stroke-width="0.9"/>
<text x="317" y="45.45" text-anchor="end" font-size="8.3" fill="#111" stroke="#111" stroke-width="0.12" textLength="10.2" lengthAdjust="spacingAndGlyphs">0.5</text>
<line x1="320.6" y1="42.7" x2="322.5" y2="42.7" stroke="#444" stroke-width="0.9"/>
<text x="317" y="63.65" text-anchor="end" font-size="8.3" fill="#111" stroke="#111" stroke-width="0.12">0</text>
<line x1="320.6" y1="60.9" x2="322.5" y2="60.9" stroke="#444" stroke-width="0.9"/>
<line x1="323" y1="25.19" x2="509" y2="25.19" stroke="#bcb9c0" stroke-width="1.9"/>
<rect x="370.03" y="24.47" width="1.91" height="36.43" fill="#72bb48" stroke="#132808" stroke-width="0.7"/>
<rect x="372.55" y="24.47" width="1.91" height="36.43" fill="#72bb48" stroke="#132808" stroke-width="0.7"/>
<rect x="375.06" y="24.47" width="1.91" height="36.43" fill="#72bb48" stroke="#132808" stroke-width="0.7"/>
<rect x="377.57" y="24.47" width="1.91" height="36.43" fill="#72bb48" stroke="#132808" stroke-width="0.7"/>
<rect x="380.09" y="24.47" width="1.91" height="36.43" fill="#72bb48" stroke="#132808" stroke-width="0.7"/>
<rect x="382.6" y="24.47" width="1.91" height="36.43" fill="#72bb48" stroke="#132808" stroke-width="0.7"/>
<rect x="385.11" y="24.47" width="1.91" height="36.43" fill="#72bb48" stroke="#132808" stroke-width="0.7"/>
<rect x="387.62" y="24.47" width="1.91" height="36.43" fill="#72bb48" stroke="#132808" stroke-width="0.7"/>
<rect x="390.14" y="24.47" width="1.91" height="36.43" fill="#72bb48" stroke="#132808" stroke-width="0.7"/>
<rect x="392.65" y="24.47" width="1.91" height="36.43" fill="#72bb48" stroke="#132808" stroke-width="0.7"/>
<rect x="395.16" y="24.47" width="1.91" height="36.43" fill="#72bb48" stroke="#132808" stroke-width="0.7"/>
<rect x="397.68" y="24.47" width="1.91" height="36.43" fill="#72bb48" stroke="#132808" stroke-width="0.7"/>
<rect x="400.19" y="24.47" width="1.91" height="36.43" fill="#72bb48" stroke="#132808" stroke-width="0.7"/>
<rect x="402.7" y="24.47" width="1.91" height="36.43" fill="#72bb48" stroke="#132808" stroke-width="0.7"/>
<rect x="405.22" y="25.49" width="1.91" height="35.41" fill="#72bb48" stroke="#132808" stroke-width="0.7"/>
<rect x="407.73" y="25.49" width="1.91" height="35.41" fill="#72bb48" stroke="#132808" stroke-width="0.7"/>
<rect x="410.24" y="26.4" width="1.91" height="34.5" fill="#72bb48" stroke="#132808" stroke-width="0.7"/>
<rect x="412.75" y="26.4" width="1.91" height="34.5" fill="#72bb48" stroke="#132808" stroke-width="0.7"/>
<rect x="415.27" y="26.91" width="1.91" height="33.99" fill="#72bb48" stroke="#132808" stroke-width="0.7"/>
<rect x="417.78" y="27.02" width="1.91" height="33.88" fill="#72bb48" stroke="#132808" stroke-width="0.7"/>
<rect x="420.29" y="27.13" width="1.91" height="33.77" fill="#72bb48" stroke="#132808" stroke-width="0.7"/>
<rect x="422.81" y="27.38" width="1.91" height="33.52" fill="#72bb48" stroke="#132808" stroke-width="0.7"/>
<rect x="425.32" y="27.49" width="1.91" height="33.41" fill="#72bb48" stroke="#132808" stroke-width="0.7"/>
<rect x="427.83" y="27.49" width="1.91" height="33.41" fill="#72bb48" stroke="#132808" stroke-width="0.7"/>
<rect x="430.35" y="28.4" width="1.91" height="32.5" fill="#72bb48" stroke="#132808" stroke-width="0.7"/>
<rect x="432.86" y="28.66" width="1.91" height="32.24" fill="#27418a" stroke="#101a3a" stroke-width="0.7"/>
<rect x="435.37" y="28.8" width="1.91" height="32.1" fill="#72bb48" stroke="#132808" stroke-width="0.7"/>
<rect x="437.88" y="28.8" width="1.91" height="32.1" fill="#72bb48" stroke="#132808" stroke-width="0.7"/>
<rect x="440.4" y="28.8" width="1.91" height="32.1" fill="#72bb48" stroke="#132808" stroke-width="0.7"/>
<rect x="442.91" y="29.2" width="1.91" height="31.7" fill="#27418a" stroke="#101a3a" stroke-width="0.7"/>
<rect x="445.42" y="29.31" width="1.91" height="31.59" fill="#72bb48" stroke="#132808" stroke-width="0.7"/>
<rect x="447.94" y="30.41" width="1.91" height="30.49" fill="#72bb48" stroke="#132808" stroke-width="0.7"/>
<rect x="450.45" y="30.81" width="1.91" height="30.09" fill="#72bb48" stroke="#132808" stroke-width="0.7"/>
<rect x="452.96" y="30.81" width="1.91" height="30.09" fill="#27418a" stroke="#101a3a" stroke-width="0.7"/>
<rect x="455.48" y="30.88" width="1.91" height="30.02" fill="#72bb48" stroke="#132808" stroke-width="0.7"/>
<rect x="457.99" y="31.86" width="1.91" height="29.04" fill="#72bb48" stroke="#132808" stroke-width="0.7"/>
<rect x="460.5" y="32.19" width="1.91" height="28.71" fill="#72bb48" stroke="#132808" stroke-width="0.7"/>
<rect x="463.02" y="32.77" width="1.91" height="28.13" fill="#72bb48" stroke="#132808" stroke-width="0.7"/>
<rect x="465.53" y="32.99" width="1.91" height="27.91" fill="#72bb48" stroke="#132808" stroke-width="0.7"/>
<rect x="468.04" y="33.35" width="1.91" height="27.55" fill="#72bb48" stroke="#132808" stroke-width="0.7"/>
<rect x="470.55" y="33.68" width="1.91" height="27.22" fill="#72bb48" stroke="#132808" stroke-width="0.7"/>
<rect x="473.07" y="34.85" width="1.91" height="26.05" fill="#72bb48" stroke="#132808" stroke-width="0.7"/>
<rect x="475.58" y="34.85" width="1.91" height="26.05" fill="#72bb48" stroke="#132808" stroke-width="0.7"/>
<rect x="478.09" y="35.07" width="1.91" height="25.83" fill="#72bb48" stroke="#132808" stroke-width="0.7"/>
<rect x="480.61" y="35.65" width="1.91" height="25.25" fill="#72bb48" stroke="#132808" stroke-width="0.7"/>
<rect x="483.12" y="36.23" width="1.91" height="24.67" fill="#72bb48" stroke="#132808" stroke-width="0.7"/>
<rect x="485.63" y="37.98" width="1.91" height="22.92" fill="#72bb48" stroke="#132808" stroke-width="0.7"/>
<rect x="488.15" y="38.3" width="1.91" height="22.6" fill="#72bb48" stroke="#132808" stroke-width="0.7"/>
<rect x="490.66" y="41.76" width="1.91" height="19.14" fill="#72bb48" stroke="#132808" stroke-width="0.7"/>
<rect x="493.17" y="41.76" width="1.91" height="19.14" fill="#72bb48" stroke="#132808" stroke-width="0.7"/>
<rect x="495.68" y="47.77" width="1.91" height="13.13" fill="#72bb48" stroke="#132808" stroke-width="0.7"/>
<rect x="498.2" y="53.77" width="1.91" height="7.13" fill="#72bb48" stroke="#132808" stroke-width="0.7"/>
<rect x="500.71" y="54.47" width="1.91" height="6.43" fill="#72bb48" stroke="#132808" stroke-width="0.7"/>
<rect x="503.22" y="55.59" width="1.91" height="5.31" fill="#72bb48" stroke="#132808" stroke-width="0.7"/>
<rect x="505.74" y="56.98" width="1.91" height="3.92" fill="#72bb48" stroke="#132808" stroke-width="0.7"/>
<circle cx="423.76" cy="24.38" r="0.75" fill="#222"/>
<circle cx="433.82" cy="25.66" r="0.75" fill="#222"/>
<circle cx="453.92" cy="27.81" r="0.75" fill="#222"/>
<circle cx="456.43" cy="27.88" r="0.75" fill="#222"/>
<line x1="322.5" y1="22.3" x2="322.5" y2="60.9" stroke="#5a5a5a" stroke-width="1.25"/>
<line x1="320.6" y1="60.9" x2="509" y2="60.9" stroke="#4a4a4a" stroke-width="1"/>
<text x="295.4" y="74.9" text-anchor="end" font-size="8.5" textLength="26.9" lengthAdjust="spacingAndGlyphs" fill="#111">Myeloid</text>
<path d="M315.25 70.15V75.1M315.35 70.2L313.7 71.6" fill="none" stroke="#1a1a1a" stroke-width="0.95"/>
<line x1="320.6" y1="72.9" x2="322.5" y2="72.9" stroke="#444" stroke-width="0.9"/>
<text x="317" y="93.85" text-anchor="end" font-size="8.3" fill="#111" stroke="#111" stroke-width="0.12" textLength="10.2" lengthAdjust="spacingAndGlyphs">0.5</text>
<line x1="320.6" y1="91.1" x2="322.5" y2="91.1" stroke="#444" stroke-width="0.9"/>
<text x="317" y="112.05" text-anchor="end" font-size="8.3" fill="#111" stroke="#111" stroke-width="0.12">0</text>
<line x1="320.6" y1="109.3" x2="322.5" y2="109.3" stroke="#444" stroke-width="0.9"/>
<line x1="323" y1="75.94" x2="509" y2="75.94" stroke="#bcb9c0" stroke-width="1.9"/>
<rect x="324.8" y="72.67" width="1.91" height="36.63" fill="#72bb48" stroke="#132808" stroke-width="0.7"/>
<rect x="327.31" y="74.42" width="1.91" height="34.88" fill="#72bb48" stroke="#132808" stroke-width="0.7"/>
<rect x="329.83" y="76.64" width="1.91" height="32.66" fill="#72bb48" stroke="#132808" stroke-width="0.7"/>
<rect x="332.34" y="76.79" width="1.91" height="32.51" fill="#72bb48" stroke="#132808" stroke-width="0.7"/>
<rect x="334.85" y="78.24" width="1.91" height="31.06" fill="#72bb48" stroke="#132808" stroke-width="0.7"/>
<rect x="337.37" y="78.86" width="1.91" height="30.44" fill="#72bb48" stroke="#132808" stroke-width="0.7"/>
<rect x="339.88" y="79.44" width="1.91" height="29.86" fill="#72bb48" stroke="#132808" stroke-width="0.7"/>
<rect x="342.39" y="83.08" width="1.91" height="26.22" fill="#72bb48" stroke="#132808" stroke-width="0.7"/>
<rect x="344.9" y="84.43" width="1.91" height="24.87" fill="#72bb48" stroke="#132808" stroke-width="0.7"/>
<rect x="347.42" y="85.27" width="1.91" height="24.03" fill="#72bb48" stroke="#132808" stroke-width="0.7"/>
<rect x="349.93" y="92.84" width="1.91" height="16.46" fill="#72bb48" stroke="#132808" stroke-width="0.7"/>
<rect x="352.44" y="95.17" width="1.91" height="14.13" fill="#72bb48" stroke="#132808" stroke-width="0.7"/>
<rect x="354.96" y="98.26" width="1.91" height="11.04" fill="#72bb48" stroke="#132808" stroke-width="0.7"/>
<rect x="357.47" y="102.08" width="1.91" height="7.22" fill="#72bb48" stroke="#132808" stroke-width="0.7"/>
<rect x="359.98" y="103.79" width="1.91" height="5.51" fill="#72bb48" stroke="#132808" stroke-width="0.7"/>
<rect x="362.5" y="105.18" width="1.91" height="4.12" fill="#72bb48" stroke="#132808" stroke-width="0.7"/>
<rect x="365.01" y="105.18" width="1.91" height="4.12" fill="#72bb48" stroke="#132808" stroke-width="0.7"/>
<rect x="367.52" y="105.54" width="1.91" height="3.76" fill="#72bb48" stroke="#132808" stroke-width="0.7"/>
<line x1="322.5" y1="70.7" x2="322.5" y2="109.3" stroke="#5a5a5a" stroke-width="1.25"/>
<line x1="320.6" y1="109.3" x2="509" y2="109.3" stroke="#4a4a4a" stroke-width="1"/>
<text x="416.95" y="139.8" text-anchor="middle" font-size="10" textLength="36.47" lengthAdjust="spacingAndGlyphs" fill="#111" stroke="#111" stroke-width="0.15">UPN–15</text>
<text x="295.4" y="148.9" text-anchor="end" font-size="8.5" textLength="23.2" lengthAdjust="spacingAndGlyphs" fill="#111">Plasma</text>
<path d="M315.25 144.45V149.4M315.35 144.5L313.7 145.9" fill="none" stroke="#1a1a1a" stroke-width="0.95"/>
<line x1="320.6" y1="147.2" x2="322.5" y2="147.2" stroke="#444" stroke-width="0.9"/>
<text x="317" y="168.15" text-anchor="end" font-size="8.3" fill="#111" stroke="#111" stroke-width="0.12" textLength="10.2" lengthAdjust="spacingAndGlyphs">0.5</text>
<line x1="320.6" y1="165.4" x2="322.5" y2="165.4" stroke="#444" stroke-width="0.9"/>
<text x="317" y="186.35" text-anchor="end" font-size="8.3" fill="#111" stroke="#111" stroke-width="0.12">0</text>
<line x1="320.6" y1="183.6" x2="322.5" y2="183.6" stroke="#444" stroke-width="0.9"/>
<line x1="323" y1="147.72" x2="511.9" y2="147.72" stroke="#bcb9c0" stroke-width="1.9"/>
<rect x="324.8" y="172.59" width="1.72" height="11.01" fill="#b2001e" stroke="#4a000c" stroke-width="0.7"/>
<rect x="327.12" y="173.72" width="1.72" height="9.88" fill="#b2001e" stroke="#4a000c" stroke-width="0.7"/>
<rect x="350.34" y="147.76" width="1.72" height="35.84" fill="#72bb48" stroke="#132808" stroke-width="0.7"/>
<rect x="352.66" y="147.76" width="1.72" height="35.84" fill="#72bb48" stroke="#132808" stroke-width="0.7"/>
<rect x="354.99" y="147.76" width="1.72" height="35.84" fill="#72bb48" stroke="#132808" stroke-width="0.7"/>
<rect x="357.31" y="147.76" width="1.72" height="35.84" fill="#72bb48" stroke="#132808" stroke-width="0.7"/>
<rect x="359.63" y="147.76" width="1.72" height="35.84" fill="#72bb48" stroke="#132808" stroke-width="0.7"/>
<rect x="361.95" y="147.76" width="1.72" height="35.84" fill="#72bb48" stroke="#132808" stroke-width="0.7"/>
<rect x="364.27" y="147.76" width="1.72" height="35.84" fill="#72bb48" stroke="#132808" stroke-width="0.7"/>
<rect x="366.6" y="147.76" width="1.72" height="35.84" fill="#72bb48" stroke="#132808" stroke-width="0.7"/>
<rect x="368.92" y="147.76" width="1.72" height="35.84" fill="#72bb48" stroke="#132808" stroke-width="0.7"/>
<rect x="371.24" y="147.76" width="1.72" height="35.84" fill="#72bb48" stroke="#132808" stroke-width="0.7"/>
<rect x="373.56" y="147.76" width="1.72" height="35.84" fill="#72bb48" stroke="#132808" stroke-width="0.7"/>
<rect x="375.88" y="147.91" width="1.72" height="35.69" fill="#72bb48" stroke="#132808" stroke-width="0.7"/>
<rect x="378.21" y="147.91" width="1.72" height="35.69" fill="#72bb48" stroke="#132808" stroke-width="0.7"/>
<rect x="380.53" y="147.91" width="1.72" height="35.69" fill="#72bb48" stroke="#132808" stroke-width="0.7"/>
<rect x="382.85" y="147.91" width="1.72" height="35.69" fill="#72bb48" stroke="#132808" stroke-width="0.7"/>
<rect x="385.17" y="147.91" width="1.72" height="35.69" fill="#72bb48" stroke="#132808" stroke-width="0.7"/>
<rect x="387.49" y="148.6" width="1.72" height="35" fill="#72bb48" stroke="#132808" stroke-width="0.7"/>
<rect x="389.82" y="148.6" width="1.72" height="35" fill="#72bb48" stroke="#132808" stroke-width="0.7"/>
<rect x="392.14" y="148.6" width="1.72" height="35" fill="#72bb48" stroke="#132808" stroke-width="0.7"/>
<rect x="394.46" y="148.89" width="1.72" height="34.71" fill="#72bb48" stroke="#132808" stroke-width="0.7"/>
<rect x="396.78" y="148.89" width="1.72" height="34.71" fill="#72bb48" stroke="#132808" stroke-width="0.7"/>
<rect x="399.1" y="148.89" width="1.72" height="34.71" fill="#72bb48" stroke="#132808" stroke-width="0.7"/>
<rect x="401.43" y="148.89" width="1.72" height="34.71" fill="#72bb48" stroke="#132808" stroke-width="0.7"/>
<rect x="403.75" y="148.89" width="1.72" height="34.71" fill="#72bb48" stroke="#132808" stroke-width="0.7"/>
<rect x="406.07" y="149.51" width="1.72" height="34.09" fill="#72bb48" stroke="#132808" stroke-width="0.7"/>
<rect x="408.39" y="149.8" width="1.72" height="33.8" fill="#72bb48" stroke="#132808" stroke-width="0.7"/>
<rect x="410.71" y="150.2" width="1.72" height="33.4" fill="#72bb48" stroke="#132808" stroke-width="0.7"/>
<rect x="413.04" y="150.79" width="1.72" height="32.81" fill="#72bb48" stroke="#132808" stroke-width="0.7"/>
<rect x="415.36" y="150.79" width="1.72" height="32.81" fill="#72bb48" stroke="#132808" stroke-width="0.7"/>
<rect x="417.68" y="151" width="1.72" height="32.6" fill="#72bb48" stroke="#132808" stroke-width="0.7"/>
<rect x="420" y="151.29" width="1.72" height="32.31" fill="#72bb48" stroke="#132808" stroke-width="0.7"/>
<rect x="422.32" y="151.59" width="1.72" height="32.01" fill="#72bb48" stroke="#132808" stroke-width="0.7"/>
<rect x="424.65" y="151.91" width="1.72" height="31.69" fill="#72bb48" stroke="#132808" stroke-width="0.7"/>
<rect x="426.97" y="152.31" width="1.72" height="31.29" fill="#72bb48" stroke="#132808" stroke-width="0.7"/>
<rect x="429.29" y="152.9" width="1.72" height="30.7" fill="#72bb48" stroke="#132808" stroke-width="0.7"/>
<rect x="431.61" y="154.02" width="1.72" height="29.58" fill="#72bb48" stroke="#132808" stroke-width="0.7"/>
<rect x="433.93" y="154.5" width="1.72" height="29.1" fill="#72bb48" stroke="#132808" stroke-width="0.7"/>
<rect x="436.26" y="154.5" width="1.72" height="29.1" fill="#72bb48" stroke="#132808" stroke-width="0.7"/>
<rect x="438.58" y="155.44" width="1.72" height="28.16" fill="#72bb48" stroke="#132808" stroke-width="0.7"/>
<rect x="440.9" y="156.39" width="1.72" height="27.21" fill="#72bb48" stroke="#132808" stroke-width="0.7"/>
<rect x="443.22" y="158.79" width="1.72" height="24.81" fill="#72bb48" stroke="#132808" stroke-width="0.7"/>
<rect x="445.54" y="161.2" width="1.72" height="22.4" fill="#72bb48" stroke="#132808" stroke-width="0.7"/>
<rect x="447.87" y="161.71" width="1.72" height="21.89" fill="#72bb48" stroke="#132808" stroke-width="0.7"/>
<rect x="450.19" y="163.6" width="1.72" height="20" fill="#72bb48" stroke="#132808" stroke-width="0.7"/>
<rect x="452.51" y="166" width="1.72" height="17.6" fill="#72bb48" stroke="#132808" stroke-width="0.7"/>
<rect x="454.83" y="166.51" width="1.72" height="17.09" fill="#72bb48" stroke="#132808" stroke-width="0.7"/>
<rect x="457.15" y="167.31" width="1.72" height="16.29" fill="#72bb48" stroke="#132808" stroke-width="0.7"/>
<rect x="459.48" y="167.49" width="1.72" height="16.11" fill="#72bb48" stroke="#132808" stroke-width="0.7"/>
<rect x="461.8" y="167.71" width="1.72" height="15.89" fill="#72bb48" stroke="#132808" stroke-width="0.7"/>
<rect x="464.12" y="167.97" width="1.72" height="15.63" fill="#72bb48" stroke="#132808" stroke-width="0.7"/>
<rect x="466.44" y="169.24" width="1.72" height="14.36" fill="#72bb48" stroke="#132808" stroke-width="0.7"/>
<rect x="468.76" y="169.79" width="1.72" height="13.81" fill="#27418a" stroke="#101a3a" stroke-width="0.7"/>
<rect x="471.09" y="169.79" width="1.72" height="13.81" fill="#72bb48" stroke="#132808" stroke-width="0.7"/>
<rect x="473.41" y="170.44" width="1.72" height="13.16" fill="#72bb48" stroke="#132808" stroke-width="0.7"/>
<rect x="475.73" y="170.66" width="1.72" height="12.94" fill="#72bb48" stroke="#132808" stroke-width="0.7"/>
<rect x="478.05" y="170.66" width="1.72" height="12.94" fill="#72bb48" stroke="#132808" stroke-width="0.7"/>
<rect x="480.37" y="170.81" width="1.72" height="12.79" fill="#72bb48" stroke="#132808" stroke-width="0.7"/>
<rect x="482.7" y="171.06" width="1.72" height="12.54" fill="#72bb48" stroke="#132808" stroke-width="0.7"/>
<rect x="485.02" y="171.31" width="1.72" height="12.29" fill="#72bb48" stroke="#132808" stroke-width="0.7"/>
<rect x="487.34" y="171.68" width="1.72" height="11.92" fill="#72bb48" stroke="#132808" stroke-width="0.7"/>
<rect x="489.66" y="172.52" width="1.72" height="11.08" fill="#72bb48" stroke="#132808" stroke-width="0.7"/>
<rect x="491.98" y="173.64" width="1.72" height="9.96" fill="#72bb48" stroke="#132808" stroke-width="0.7"/>
<rect x="494.31" y="176.67" width="1.72" height="6.93" fill="#27418a" stroke="#101a3a" stroke-width="0.7"/>
<rect x="496.63" y="177.14" width="1.72" height="6.46" fill="#72bb48" stroke="#132808" stroke-width="0.7"/>
<rect x="498.95" y="178.41" width="1.72" height="5.19" fill="#72bb48" stroke="#132808" stroke-width="0.7"/>
<rect x="501.27" y="178.41" width="1.72" height="5.19" fill="#72bb48" stroke="#132808" stroke-width="0.7"/>
<rect x="503.59" y="178.49" width="1.72" height="5.11" fill="#72bb48" stroke="#132808" stroke-width="0.7"/>
<rect x="505.92" y="180.63" width="1.72" height="2.97" fill="#72bb48" stroke="#132808" stroke-width="0.7"/>
<rect x="508.24" y="180.63" width="1.72" height="2.97" fill="#72bb48" stroke="#132808" stroke-width="0.7"/>
<circle cx="351.2" cy="144.76" r="0.75" fill="#222"/>
<circle cx="383.71" cy="144.91" r="0.75" fill="#222"/>
<circle cx="404.61" cy="145.89" r="0.75" fill="#222"/>
<circle cx="455.69" cy="163.51" r="0.75" fill="#222"/>
<circle cx="458.01" cy="164.31" r="0.75" fill="#222"/>
<circle cx="460.34" cy="164.49" r="0.75" fill="#222"/>
<circle cx="462.66" cy="164.71" r="0.75" fill="#222"/>
<circle cx="464.98" cy="164.97" r="0.75" fill="#222"/>
<circle cx="471.95" cy="166.79" r="0.75" fill="#222"/>
<circle cx="474.27" cy="167.44" r="0.75" fill="#222"/>
<circle cx="476.59" cy="167.66" r="0.75" fill="#222"/>
<circle cx="478.91" cy="167.66" r="0.75" fill="#222"/>
<circle cx="481.24" cy="167.81" r="0.75" fill="#222"/>
<circle cx="485.88" cy="168.31" r="0.75" fill="#222"/>
<line x1="322.5" y1="145" x2="322.5" y2="183.6" stroke="#5a5a5a" stroke-width="1.25"/>
<line x1="320.6" y1="183.6" x2="511.75" y2="183.6" stroke="#4a4a4a" stroke-width="1"/>
<text x="295.4" y="196.9" text-anchor="end" font-size="8.5" textLength="26.9" lengthAdjust="spacingAndGlyphs" fill="#111">Myeloid</text>
<path d="M315.25 193.15V198.1M315.35 193.2L313.7 194.6" fill="none" stroke="#1a1a1a" stroke-width="0.95"/>
<line x1="320.6" y1="195.9" x2="322.5" y2="195.9" stroke="#444" stroke-width="0.9"/>
<text x="317" y="216.85" text-anchor="end" font-size="8.3" fill="#111" stroke="#111" stroke-width="0.12" textLength="10.2" lengthAdjust="spacingAndGlyphs">0.5</text>
<line x1="320.6" y1="214.1" x2="322.5" y2="214.1" stroke="#444" stroke-width="0.9"/>
<text x="317" y="235.05" text-anchor="end" font-size="8.3" fill="#111" stroke="#111" stroke-width="0.12">0</text>
<line x1="320.6" y1="232.3" x2="322.5" y2="232.3" stroke="#444" stroke-width="0.9"/>
<rect x="324.8" y="221.82" width="1.72" height="10.48" fill="#b2001e" stroke="#4a000c" stroke-width="0.7"/>
<rect x="327.12" y="222.47" width="1.72" height="9.83" fill="#b2001e" stroke="#4a000c" stroke-width="0.7"/>
<rect x="329.44" y="209.55" width="1.72" height="22.75" fill="#72bb48" stroke="#132808" stroke-width="0.7"/>
<rect x="331.77" y="214.1" width="1.72" height="18.2" fill="#27418a" stroke="#101a3a" stroke-width="0.7"/>
<rect x="334.09" y="213.92" width="1.72" height="18.38" fill="#72bb48" stroke="#132808" stroke-width="0.7"/>
<rect x="336.41" y="215.45" width="1.72" height="16.85" fill="#72bb48" stroke="#132808" stroke-width="0.7"/>
<rect x="338.73" y="224.11" width="1.72" height="8.19" fill="#72bb48" stroke="#132808" stroke-width="0.7"/>
<rect x="341.05" y="224.11" width="1.72" height="8.19" fill="#72bb48" stroke="#132808" stroke-width="0.7"/>
<rect x="343.38" y="226.8" width="1.72" height="5.5" fill="#72bb48" stroke="#132808" stroke-width="0.7"/>
<rect x="345.7" y="226.8" width="1.72" height="5.5" fill="#72bb48" stroke="#132808" stroke-width="0.7"/>
<rect x="348.02" y="227.71" width="1.72" height="4.59" fill="#72bb48" stroke="#132808" stroke-width="0.7"/>
<line x1="322.5" y1="193.7" x2="322.5" y2="232.3" stroke="#5a5a5a" stroke-width="1.25"/>
<line x1="320.6" y1="232.3" x2="511.75" y2="232.3" stroke="#4a4a4a" stroke-width="1"/>
<text x="413.7" y="262.8" text-anchor="middle" font-size="10" textLength="30.36" lengthAdjust="spacingAndGlyphs" fill="#111" stroke="#111" stroke-width="0.15">UPN–1</text>
<text x="295.4" y="271.9" text-anchor="end" font-size="8.5" textLength="23.2" lengthAdjust="spacingAndGlyphs" fill="#111">Plasma</text>
<path d="M315.25 267.35V272.3M315.35 267.4L313.7 268.8" fill="none" stroke="#1a1a1a" stroke-width="0.95"/>
<line x1="320.6" y1="270.1" x2="322.5" y2="270.1" stroke="#444" stroke-width="0.9"/>
<text x="317" y="291.05" text-anchor="end" font-size="8.3" fill="#111" stroke="#111" stroke-width="0.12" textLength="10.2" lengthAdjust="spacingAndGlyphs">0.5</text>
<line x1="320.6" y1="288.3" x2="322.5" y2="288.3" stroke="#444" stroke-width="0.9"/>
<text x="317" y="309.25" text-anchor="end" font-size="8.3" fill="#111" stroke="#111" stroke-width="0.12">0</text>
<line x1="320.6" y1="306.5" x2="322.5" y2="306.5" stroke="#444" stroke-width="0.9"/>
<line x1="323" y1="283.29" x2="506.5" y2="283.29" stroke="#bcb9c0" stroke-width="1.9"/>
<rect x="429.75" y="277.36" width="2.09" height="29.14" fill="#72bb48" stroke="#132808" stroke-width="0.7"/>
<rect x="432.44" y="278.05" width="2.09" height="28.45" fill="#72bb48" stroke="#132808" stroke-width="0.7"/>
<rect x="435.13" y="278.64" width="2.09" height="27.86" fill="#72bb48" stroke="#132808" stroke-width="0.7"/>
<rect x="437.82" y="279" width="2.09" height="27.5" fill="#72bb48" stroke="#132808" stroke-width="0.7"/>
<rect x="440.51" y="279.29" width="2.09" height="27.21" fill="#72bb48" stroke="#132808" stroke-width="0.7"/>
<rect x="443.2" y="279.76" width="2.09" height="26.74" fill="#72bb48" stroke="#132808" stroke-width="0.7"/>
<rect x="445.9" y="280.56" width="2.09" height="25.94" fill="#72bb48" stroke="#132808" stroke-width="0.7"/>
<rect x="448.59" y="280.75" width="2.09" height="25.75" fill="#72bb48" stroke="#132808" stroke-width="0.7"/>
<rect x="451.28" y="280.93" width="2.09" height="25.57" fill="#72bb48" stroke="#132808" stroke-width="0.7"/>
<rect x="453.97" y="280.93" width="2.09" height="25.57" fill="#72bb48" stroke="#132808" stroke-width="0.7"/>
<rect x="456.66" y="280.93" width="2.09" height="25.57" fill="#72bb48" stroke="#132808" stroke-width="0.7"/>
<rect x="459.35" y="281.22" width="2.09" height="25.28" fill="#72bb48" stroke="#132808" stroke-width="0.7"/>
<rect x="462.04" y="281.51" width="2.09" height="24.99" fill="#72bb48" stroke="#132808" stroke-width="0.7"/>
<rect x="464.73" y="282.46" width="2.09" height="24.04" fill="#72bb48" stroke="#132808" stroke-width="0.7"/>
<rect x="467.42" y="282.42" width="2.09" height="24.08" fill="#72bb48" stroke="#132808" stroke-width="0.7"/>
<rect x="470.11" y="283.29" width="2.09" height="23.21" fill="#72bb48" stroke="#132808" stroke-width="0.7"/>
<rect x="472.81" y="286.02" width="2.09" height="20.48" fill="#72bb48" stroke="#132808" stroke-width="0.7"/>
<rect x="475.5" y="286.72" width="2.09" height="19.78" fill="#72bb48" stroke="#132808" stroke-width="0.7"/>
<rect x="478.19" y="287.01" width="2.09" height="19.49" fill="#72bb48" stroke="#132808" stroke-width="0.7"/>
<rect x="480.88" y="288.9" width="2.09" height="17.6" fill="#72bb48" stroke="#132808" stroke-width="0.7"/>
<rect x="483.57" y="289.88" width="2.09" height="16.62" fill="#72bb48" stroke="#132808" stroke-width="0.7"/>
<rect x="486.26" y="291.81" width="2.09" height="14.69" fill="#72bb48" stroke="#132808" stroke-width="0.7"/>
<rect x="488.95" y="297.85" width="2.09" height="8.65" fill="#72bb48" stroke="#132808" stroke-width="0.7"/>
<rect x="491.64" y="299.97" width="2.09" height="6.53" fill="#72bb48" stroke="#132808" stroke-width="0.7"/>
<rect x="494.33" y="300.73" width="2.09" height="5.77" fill="#72bb48" stroke="#132808" stroke-width="0.7"/>
<rect x="497.02" y="302.84" width="2.09" height="3.66" fill="#72bb48" stroke="#132808" stroke-width="0.7"/>
<rect x="499.71" y="303.35" width="2.09" height="3.15" fill="#72bb48" stroke="#132808" stroke-width="0.7"/>
<rect x="502.41" y="303.61" width="2.09" height="2.89" fill="#72bb48" stroke="#132808" stroke-width="0.7"/>
<line x1="322.5" y1="267.9" x2="322.5" y2="306.5" stroke="#5a5a5a" stroke-width="1.25"/>
<line x1="320.6" y1="306.5" x2="507" y2="306.5" stroke="#4a4a4a" stroke-width="1"/>
<text x="295.4" y="319.9" text-anchor="end" font-size="8.5" textLength="26.9" lengthAdjust="spacingAndGlyphs" fill="#111">Myeloid</text>
<path d="M315.25 315.31V320.26M315.35 315.36L313.7 316.76" fill="none" stroke="#1a1a1a" stroke-width="0.95"/>
<line x1="320.6" y1="318.06" x2="322.5" y2="318.06" stroke="#444" stroke-width="0.9"/>
<text x="317" y="339.01" text-anchor="end" font-size="8.3" fill="#111" stroke="#111" stroke-width="0.12" textLength="10.2" lengthAdjust="spacingAndGlyphs">0.5</text>
<line x1="320.6" y1="336.26" x2="322.5" y2="336.26" stroke="#444" stroke-width="0.9"/>
<text x="317" y="357.21" text-anchor="end" font-size="8.3" fill="#111" stroke="#111" stroke-width="0.12">0</text>
<line x1="320.6" y1="354.46" x2="322.5" y2="354.46" stroke="#444" stroke-width="0.9"/>
<rect x="324.8" y="318.61" width="2.09" height="35.85" fill="#72bb48" stroke="#132808" stroke-width="0.7"/>
<rect x="327.49" y="318.61" width="2.09" height="35.85" fill="#72bb48" stroke="#132808" stroke-width="0.7"/>
<rect x="330.18" y="318.61" width="2.09" height="35.85" fill="#72bb48" stroke="#132808" stroke-width="0.7"/>
<rect x="332.87" y="318.61" width="2.09" height="35.85" fill="#72bb48" stroke="#132808" stroke-width="0.7"/>
<rect x="335.56" y="318.61" width="2.09" height="35.85" fill="#72bb48" stroke="#132808" stroke-width="0.7"/>
<rect x="338.25" y="318.61" width="2.09" height="35.85" fill="#72bb48" stroke="#132808" stroke-width="0.7"/>
<rect x="340.95" y="318.61" width="2.09" height="35.85" fill="#27418a" stroke="#101a3a" stroke-width="0.7"/>
<rect x="343.64" y="318.61" width="2.09" height="35.85" fill="#72bb48" stroke="#132808" stroke-width="0.7"/>
<rect x="346.33" y="319.59" width="2.09" height="34.87" fill="#72bb48" stroke="#132808" stroke-width="0.7"/>
<rect x="349.02" y="319.74" width="2.09" height="34.72" fill="#72bb48" stroke="#132808" stroke-width="0.7"/>
<rect x="351.71" y="320.61" width="2.09" height="33.85" fill="#72bb48" stroke="#132808" stroke-width="0.7"/>
<rect x="354.4" y="320.61" width="2.09" height="33.85" fill="#72bb48" stroke="#132808" stroke-width="0.7"/>
<rect x="357.09" y="320.61" width="2.09" height="33.85" fill="#72bb48" stroke="#132808" stroke-width="0.7"/>
<rect x="359.78" y="320.61" width="2.09" height="33.85" fill="#72bb48" stroke="#132808" stroke-width="0.7"/>
<rect x="362.47" y="320.94" width="2.09" height="33.52" fill="#72bb48" stroke="#132808" stroke-width="0.7"/>
<rect x="365.17" y="322.1" width="2.09" height="32.36" fill="#72bb48" stroke="#132808" stroke-width="0.7"/>
<rect x="367.86" y="322.69" width="2.09" height="31.77" fill="#72bb48" stroke="#132808" stroke-width="0.7"/>
<rect x="370.55" y="322.69" width="2.09" height="31.77" fill="#72bb48" stroke="#132808" stroke-width="0.7"/>
<rect x="373.24" y="323.27" width="2.09" height="31.19" fill="#72bb48" stroke="#132808" stroke-width="0.7"/>
<rect x="375.93" y="323.67" width="2.09" height="30.79" fill="#72bb48" stroke="#132808" stroke-width="0.7"/>
<rect x="378.62" y="325.05" width="2.09" height="29.41" fill="#72bb48" stroke="#132808" stroke-width="0.7"/>
<rect x="381.31" y="325.16" width="2.09" height="29.3" fill="#72bb48" stroke="#132808" stroke-width="0.7"/>
<rect x="384" y="326.47" width="2.09" height="27.99" fill="#27418a" stroke="#101a3a" stroke-width="0.7"/>
<rect x="386.69" y="326.65" width="2.09" height="27.81" fill="#72bb48" stroke="#132808" stroke-width="0.7"/>
<rect x="389.38" y="327.31" width="2.09" height="27.15" fill="#27418a" stroke="#101a3a" stroke-width="0.7"/>
<rect x="392.07" y="327.75" width="2.09" height="26.71" fill="#72bb48" stroke="#132808" stroke-width="0.7"/>
<rect x="394.77" y="331.6" width="2.09" height="22.86" fill="#72bb48" stroke="#132808" stroke-width="0.7"/>
<rect x="397.46" y="340.05" width="2.09" height="14.41" fill="#27418a" stroke="#101a3a" stroke-width="0.7"/>
<rect x="400.15" y="340.23" width="2.09" height="14.23" fill="#72bb48" stroke="#132808" stroke-width="0.7"/>
<rect x="402.84" y="340.56" width="2.09" height="13.9" fill="#27418a" stroke="#101a3a" stroke-width="0.7"/>
<rect x="405.53" y="342.12" width="2.09" height="12.34" fill="#72bb48" stroke="#132808" stroke-width="0.7"/>
<rect x="408.22" y="342.85" width="2.09" height="11.61" fill="#72bb48" stroke="#132808" stroke-width="0.7"/>
<rect x="410.91" y="343.22" width="2.09" height="11.24" fill="#72bb48" stroke="#132808" stroke-width="0.7"/>
<rect x="413.6" y="347.29" width="2.09" height="7.17" fill="#72bb48" stroke="#132808" stroke-width="0.7"/>
<rect x="416.29" y="348.79" width="2.09" height="5.67" fill="#72bb48" stroke="#132808" stroke-width="0.7"/>
<rect x="418.99" y="349.19" width="2.09" height="5.27" fill="#27418a" stroke="#101a3a" stroke-width="0.7"/>
<rect x="421.68" y="350.2" width="2.09" height="4.26" fill="#72bb48" stroke="#132808" stroke-width="0.7"/>
<rect x="424.37" y="350.71" width="2.09" height="3.75" fill="#72bb48" stroke="#132808" stroke-width="0.7"/>
<rect x="427.06" y="350.9" width="2.09" height="3.56" fill="#72bb48" stroke="#132808" stroke-width="0.7"/>
<circle cx="398.5" cy="337.05" r="0.75" fill="#222"/>
<circle cx="403.88" cy="337.56" r="0.75" fill="#222"/>
<circle cx="420.03" cy="346.19" r="0.75" fill="#222"/>
<line x1="322.5" y1="315.86" x2="322.5" y2="354.46" stroke="#5a5a5a" stroke-width="1.25"/>
<line x1="320.6" y1="354.46" x2="507" y2="354.46" stroke="#4a4a4a" stroke-width="1"/>
<text x="408" y="384.8" text-anchor="middle" font-size="10" textLength="36.98" lengthAdjust="spacingAndGlyphs" fill="#111" stroke="#111" stroke-width="0.15">UPN–26</text>
<text x="295.4" y="394.9" text-anchor="end" font-size="8.5" textLength="23.2" lengthAdjust="spacingAndGlyphs" fill="#111">Plasma</text>
<path d="M315.25 389.85V394.8M315.35 389.9L313.7 391.3" fill="none" stroke="#1a1a1a" stroke-width="0.95"/>
<line x1="320.6" y1="392.6" x2="322.5" y2="392.6" stroke="#444" stroke-width="0.9"/>
<text x="317" y="413.55" text-anchor="end" font-size="8.3" fill="#111" stroke="#111" stroke-width="0.12" textLength="10.2" lengthAdjust="spacingAndGlyphs">0.5</text>
<line x1="320.6" y1="410.8" x2="322.5" y2="410.8" stroke="#444" stroke-width="0.9"/>
<text x="317" y="431.75" text-anchor="end" font-size="8.3" fill="#111" stroke="#111" stroke-width="0.12">0</text>
<line x1="320.6" y1="429" x2="322.5" y2="429" stroke="#444" stroke-width="0.9"/>
<line x1="323" y1="393.01" x2="492.5" y2="393.01" stroke="#bcb9c0" stroke-width="1.9"/>
<rect x="382.26" y="392.73" width="3.16" height="36.27" fill="#72bb48" stroke="#132808" stroke-width="0.7"/>
<rect x="386.02" y="392.73" width="3.16" height="36.27" fill="#72bb48" stroke="#132808" stroke-width="0.7"/>
<rect x="389.79" y="392.73" width="3.16" height="36.27" fill="#72bb48" stroke="#132808" stroke-width="0.7"/>
<rect x="393.55" y="392.73" width="3.16" height="36.27" fill="#72bb48" stroke="#132808" stroke-width="0.7"/>
<rect x="397.32" y="392.73" width="3.16" height="36.27" fill="#72bb48" stroke="#132808" stroke-width="0.7"/>
<rect x="401.08" y="392.73" width="3.16" height="36.27" fill="#72bb48" stroke="#132808" stroke-width="0.7"/>
<rect x="404.84" y="392.73" width="3.16" height="36.27" fill="#72bb48" stroke="#132808" stroke-width="0.7"/>
<rect x="408.61" y="392.73" width="3.16" height="36.27" fill="#72bb48" stroke="#132808" stroke-width="0.7"/>
<rect x="412.37" y="393.67" width="3.16" height="35.33" fill="#72bb48" stroke="#132808" stroke-width="0.7"/>
<rect x="416.14" y="394.07" width="3.16" height="34.93" fill="#72bb48" stroke="#132808" stroke-width="0.7"/>
<rect x="419.9" y="395.02" width="3.16" height="33.98" fill="#72bb48" stroke="#132808" stroke-width="0.7"/>
<rect x="423.66" y="395.97" width="3.16" height="33.03" fill="#72bb48" stroke="#132808" stroke-width="0.7"/>
<rect x="427.43" y="397.06" width="3.16" height="31.94" fill="#72bb48" stroke="#132808" stroke-width="0.7"/>
<rect x="431.19" y="398.66" width="3.16" height="30.34" fill="#72bb48" stroke="#132808" stroke-width="0.7"/>
<rect x="434.96" y="399.06" width="3.16" height="29.94" fill="#72bb48" stroke="#132808" stroke-width="0.7"/>
<rect x="438.72" y="399.39" width="3.16" height="29.61" fill="#72bb48" stroke="#132808" stroke-width="0.7"/>
<rect x="442.48" y="401.5" width="3.16" height="27.5" fill="#72bb48" stroke="#132808" stroke-width="0.7"/>
<rect x="446.25" y="401.35" width="3.16" height="27.65" fill="#72bb48" stroke="#132808" stroke-width="0.7"/>
<rect x="450.01" y="404.85" width="3.16" height="24.15" fill="#72bb48" stroke="#132808" stroke-width="0.7"/>
<rect x="453.78" y="408.49" width="3.16" height="20.51" fill="#72bb48" stroke="#132808" stroke-width="0.7"/>
<rect x="457.54" y="415.62" width="3.16" height="13.38" fill="#72bb48" stroke="#132808" stroke-width="0.7"/>
<rect x="461.3" y="415.62" width="3.16" height="13.38" fill="#72bb48" stroke="#132808" stroke-width="0.7"/>
<rect x="465.07" y="418.32" width="3.16" height="10.68" fill="#72bb48" stroke="#132808" stroke-width="0.7"/>
<rect x="468.83" y="422.36" width="3.16" height="6.64" fill="#72bb48" stroke="#132808" stroke-width="0.7"/>
<rect x="472.6" y="422.61" width="3.16" height="6.39" fill="#72bb48" stroke="#132808" stroke-width="0.7"/>
<rect x="476.36" y="424.21" width="3.16" height="4.79" fill="#72bb48" stroke="#132808" stroke-width="0.7"/>
<rect x="480.12" y="424.61" width="3.16" height="4.39" fill="#72bb48" stroke="#132808" stroke-width="0.7"/>
<rect x="483.89" y="425.01" width="3.16" height="3.99" fill="#72bb48" stroke="#132808" stroke-width="0.7"/>
<rect x="487.65" y="425.56" width="3.16" height="3.44" fill="#72bb48" stroke="#132808" stroke-width="0.7"/>
<circle cx="447.83" cy="398.35" r="0.75" fill="#222"/>
<line x1="322.5" y1="390.4" x2="322.5" y2="429" stroke="#5a5a5a" stroke-width="1.25"/>
<line x1="320.6" y1="429" x2="492.5" y2="429" stroke="#4a4a4a" stroke-width="1"/>
<text x="295.4" y="442.9" text-anchor="end" font-size="8.5" textLength="26.9" lengthAdjust="spacingAndGlyphs" fill="#111">Myeloid</text>
<path d="M315.25 438.31V443.26M315.35 438.36L313.7 439.76" fill="none" stroke="#1a1a1a" stroke-width="0.95"/>
<line x1="320.6" y1="441.06" x2="322.5" y2="441.06" stroke="#444" stroke-width="0.9"/>
<text x="317" y="462.01" text-anchor="end" font-size="8.3" fill="#111" stroke="#111" stroke-width="0.12" textLength="10.2" lengthAdjust="spacingAndGlyphs">0.5</text>
<line x1="320.6" y1="459.26" x2="322.5" y2="459.26" stroke="#444" stroke-width="0.9"/>
<text x="317" y="480.21" text-anchor="end" font-size="8.3" fill="#111" stroke="#111" stroke-width="0.12">0</text>
<line x1="320.6" y1="477.46" x2="322.5" y2="477.46" stroke="#444" stroke-width="0.9"/>
<line x1="323" y1="446.42" x2="492.5" y2="446.42" stroke="#bcb9c0" stroke-width="1.9"/>
<rect x="325.8" y="442.47" width="3.16" height="34.99" fill="#72bb48" stroke="#132808" stroke-width="0.7"/>
<rect x="329.56" y="443.85" width="3.16" height="33.61" fill="#72bb48" stroke="#132808" stroke-width="0.7"/>
<rect x="333.33" y="445.01" width="3.16" height="32.45" fill="#72bb48" stroke="#132808" stroke-width="0.7"/>
<rect x="337.09" y="445.92" width="3.16" height="31.54" fill="#72bb48" stroke="#132808" stroke-width="0.7"/>
<rect x="340.86" y="448.69" width="3.16" height="28.77" fill="#72bb48" stroke="#132808" stroke-width="0.7"/>
<rect x="344.62" y="450.55" width="3.16" height="26.91" fill="#72bb48" stroke="#132808" stroke-width="0.7"/>
<rect x="348.38" y="453.64" width="3.16" height="23.82" fill="#72bb48" stroke="#132808" stroke-width="0.7"/>
<rect x="352.15" y="454" width="3.16" height="23.46" fill="#72bb48" stroke="#132808" stroke-width="0.7"/>
<rect x="355.91" y="467.51" width="3.16" height="9.95" fill="#72bb48" stroke="#132808" stroke-width="0.7"/>
<rect x="359.68" y="469.44" width="3.16" height="8.02" fill="#72bb48" stroke="#132808" stroke-width="0.7"/>
<rect x="363.44" y="469.8" width="3.16" height="7.66" fill="#72bb48" stroke="#132808" stroke-width="0.7"/>
<rect x="367.2" y="470.6" width="3.16" height="6.86" fill="#72bb48" stroke="#132808" stroke-width="0.7"/>
<rect x="370.97" y="470.57" width="3.16" height="6.89" fill="#72bb48" stroke="#132808" stroke-width="0.7"/>
<rect x="374.73" y="471.77" width="3.16" height="5.69" fill="#72bb48" stroke="#132808" stroke-width="0.7"/>
<rect x="378.5" y="474.42" width="3.16" height="3.04" fill="#72bb48" stroke="#132808" stroke-width="0.7"/>
<line x1="322.5" y1="438.86" x2="322.5" y2="477.46" stroke="#5a5a5a" stroke-width="1.25"/>
<line x1="320.6" y1="477.46" x2="492.5" y2="477.46" stroke="#4a4a4a" stroke-width="1"/>
<text x="410.65" y="507.8" text-anchor="middle" font-size="10" textLength="36.47" lengthAdjust="spacingAndGlyphs" fill="#111" stroke="#111" stroke-width="0.15">UPN–28</text>
<text x="295.4" y="517.9" text-anchor="end" font-size="8.5" textLength="23.2" lengthAdjust="spacingAndGlyphs" fill="#111">Plasma</text>
<path d="M315.25 512.31V517.26M315.35 512.36L313.7 513.76" fill="none" stroke="#1a1a1a" stroke-width="0.95"/>
<line x1="320.6" y1="515.06" x2="322.5" y2="515.06" stroke="#444" stroke-width="0.9"/>
<text x="317" y="536.01" text-anchor="end" font-size="8.3" fill="#111" stroke="#111" stroke-width="0.12" textLength="10.2" lengthAdjust="spacingAndGlyphs">0.5</text>
<line x1="320.6" y1="533.26" x2="322.5" y2="533.26" stroke="#444" stroke-width="0.9"/>
<text x="317" y="554.21" text-anchor="end" font-size="8.3" fill="#111" stroke="#111" stroke-width="0.12">0</text>
<line x1="320.6" y1="551.46" x2="322.5" y2="551.46" stroke="#444" stroke-width="0.9"/>
<rect x="325.8" y="544.56" width="2.71" height="6.9" fill="#b2001e" stroke="#4a000c" stroke-width="0.7"/>
<rect x="365.5" y="515.33" width="2.71" height="36.13" fill="#72bb48" stroke="#132808" stroke-width="0.7"/>
<rect x="368.8" y="516.68" width="2.71" height="34.78" fill="#72bb48" stroke="#132808" stroke-width="0.7"/>
<rect x="372.11" y="518.83" width="2.71" height="32.63" fill="#72bb48" stroke="#132808" stroke-width="0.7"/>
<rect x="375.42" y="519.08" width="2.71" height="32.38" fill="#72bb48" stroke="#132808" stroke-width="0.7"/>
<rect x="378.73" y="519.08" width="2.71" height="32.38" fill="#72bb48" stroke="#132808" stroke-width="0.7"/>
<rect x="382.04" y="522.87" width="2.71" height="28.59" fill="#72bb48" stroke="#132808" stroke-width="0.7"/>
<rect x="385.34" y="527.45" width="2.71" height="24.01" fill="#72bb48" stroke="#132808" stroke-width="0.7"/>
<rect x="388.65" y="530.95" width="2.71" height="20.51" fill="#72bb48" stroke="#132808" stroke-width="0.7"/>
<rect x="391.96" y="533.64" width="2.71" height="17.82" fill="#72bb48" stroke="#132808" stroke-width="0.7"/>
<rect x="395.27" y="534.55" width="2.71" height="16.91" fill="#72bb48" stroke="#132808" stroke-width="0.7"/>
<rect x="398.58" y="535.5" width="2.71" height="15.96" fill="#72bb48" stroke="#132808" stroke-width="0.7"/>
<rect x="401.88" y="535.5" width="2.71" height="15.96" fill="#72bb48" stroke="#132808" stroke-width="0.7"/>
<rect x="405.19" y="535.5" width="2.71" height="15.96" fill="#72bb48" stroke="#132808" stroke-width="0.7"/>
<rect x="408.5" y="535.9" width="2.71" height="15.56" fill="#72bb48" stroke="#132808" stroke-width="0.7"/>
<rect x="411.81" y="536.34" width="2.71" height="15.12" fill="#72bb48" stroke="#132808" stroke-width="0.7"/>
<rect x="415.12" y="536.85" width="2.71" height="14.61" fill="#72bb48" stroke="#132808" stroke-width="0.7"/>
<rect x="418.42" y="537.25" width="2.71" height="14.21" fill="#72bb48" stroke="#132808" stroke-width="0.7"/>
<rect x="421.73" y="539.54" width="2.71" height="11.92" fill="#72bb48" stroke="#132808" stroke-width="0.7"/>
<rect x="425.04" y="541.1" width="2.71" height="10.36" fill="#72bb48" stroke="#132808" stroke-width="0.7"/>
<rect x="428.35" y="541.32" width="2.71" height="10.14" fill="#72bb48" stroke="#132808" stroke-width="0.7"/>
<rect x="431.66" y="542.89" width="2.71" height="8.57" fill="#72bb48" stroke="#132808" stroke-width="0.7"/>
<rect x="434.96" y="543.98" width="2.71" height="7.48" fill="#72bb48" stroke="#132808" stroke-width="0.7"/>
<rect x="438.27" y="543.98" width="2.71" height="7.48" fill="#72bb48" stroke="#132808" stroke-width="0.7"/>
<rect x="441.58" y="543.98" width="2.71" height="7.48" fill="#72bb48" stroke="#132808" stroke-width="0.7"/>
<rect x="444.89" y="543.98" width="2.71" height="7.48" fill="#72bb48" stroke="#132808" stroke-width="0.7"/>
<rect x="448.2" y="545.18" width="2.71" height="6.28" fill="#72bb48" stroke="#132808" stroke-width="0.7"/>
<rect x="451.5" y="545.18" width="2.71" height="6.28" fill="#72bb48" stroke="#132808" stroke-width="0.7"/>
<rect x="454.81" y="545.18" width="2.71" height="6.28" fill="#72bb48" stroke="#132808" stroke-width="0.7"/>
<rect x="458.12" y="545.51" width="2.71" height="5.95" fill="#72bb48" stroke="#132808" stroke-width="0.7"/>
<rect x="461.43" y="545.98" width="2.71" height="5.48" fill="#72bb48" stroke="#132808" stroke-width="0.7"/>
<rect x="464.74" y="545.98" width="2.71" height="5.48" fill="#72bb48" stroke="#132808" stroke-width="0.7"/>
<rect x="468.04" y="546.27" width="2.71" height="5.19" fill="#72bb48" stroke="#132808" stroke-width="0.7"/>
<rect x="471.35" y="546.75" width="2.71" height="4.71" fill="#72bb48" stroke="#132808" stroke-width="0.7"/>
<rect x="474.66" y="547.51" width="2.71" height="3.95" fill="#72bb48" stroke="#132808" stroke-width="0.7"/>
<rect x="477.97" y="547.51" width="2.71" height="3.95" fill="#72bb48" stroke="#132808" stroke-width="0.7"/>
<rect x="481.28" y="547.8" width="2.71" height="3.66" fill="#72bb48" stroke="#132808" stroke-width="0.7"/>
<rect x="484.58" y="547.98" width="2.71" height="3.48" fill="#72bb48" stroke="#132808" stroke-width="0.7"/>
<rect x="487.89" y="548.27" width="2.71" height="3.19" fill="#72bb48" stroke="#132808" stroke-width="0.7"/>
<rect x="491.2" y="548.57" width="2.71" height="2.89" fill="#72bb48" stroke="#132808" stroke-width="0.7"/>
<rect x="494.51" y="548.57" width="2.71" height="2.89" fill="#72bb48" stroke="#132808" stroke-width="0.7"/>
<line x1="322.5" y1="512.86" x2="322.5" y2="551.46" stroke="#5a5a5a" stroke-width="1.25"/>
<line x1="320.6" y1="551.46" x2="498.6" y2="551.46" stroke="#4a4a4a" stroke-width="1"/>
<text x="295.4" y="565.9" text-anchor="end" font-size="8.5" textLength="26.9" lengthAdjust="spacingAndGlyphs" fill="#111">Myeloid</text>
<path d="M315.25 560.62V565.57M315.35 560.67L313.7 562.07" fill="none" stroke="#1a1a1a" stroke-width="0.95"/>
<line x1="320.6" y1="563.37" x2="322.5" y2="563.37" stroke="#444" stroke-width="0.9"/>
<text x="317" y="584.32" text-anchor="end" font-size="8.3" fill="#111" stroke="#111" stroke-width="0.12" textLength="10.2" lengthAdjust="spacingAndGlyphs">0.5</text>
<line x1="320.6" y1="581.57" x2="322.5" y2="581.57" stroke="#444" stroke-width="0.9"/>
<text x="317" y="602.52" text-anchor="end" font-size="8.3" fill="#111" stroke="#111" stroke-width="0.12">0</text>
<line x1="320.6" y1="599.77" x2="322.5" y2="599.77" stroke="#444" stroke-width="0.9"/>
<rect x="325.8" y="596.5" width="2.71" height="3.27" fill="#b2001e" stroke="#4a000c" stroke-width="0.7"/>
<rect x="329.11" y="563.74" width="2.71" height="36.03" fill="#72bb48" stroke="#132808" stroke-width="0.7"/>
<rect x="332.42" y="563.74" width="2.71" height="36.03" fill="#72bb48" stroke="#132808" stroke-width="0.7"/>
<rect x="335.72" y="564.61" width="2.71" height="35.16" fill="#72bb48" stroke="#132808" stroke-width="0.7"/>
<rect x="339.03" y="564.9" width="2.71" height="34.87" fill="#72bb48" stroke="#132808" stroke-width="0.7"/>
<rect x="342.34" y="565.85" width="2.71" height="33.92" fill="#72bb48" stroke="#132808" stroke-width="0.7"/>
<rect x="345.65" y="568.25" width="2.71" height="31.52" fill="#72bb48" stroke="#132808" stroke-width="0.7"/>
<rect x="348.96" y="573.35" width="2.71" height="26.42" fill="#72bb48" stroke="#132808" stroke-width="0.7"/>
<rect x="352.26" y="583.17" width="2.71" height="16.6" fill="#72bb48" stroke="#132808" stroke-width="0.7"/>
<rect x="355.57" y="587.98" width="2.71" height="11.79" fill="#72bb48" stroke="#132808" stroke-width="0.7"/>
<rect x="358.88" y="590.85" width="2.71" height="8.92" fill="#72bb48" stroke="#132808" stroke-width="0.7"/>
<rect x="362.19" y="593.73" width="2.71" height="6.04" fill="#72bb48" stroke="#132808" stroke-width="0.7"/>
<line x1="322.5" y1="561.17" x2="322.5" y2="599.77" stroke="#5a5a5a" stroke-width="1.25"/>
<line x1="320.6" y1="599.77" x2="498.6" y2="599.77" stroke="#4a4a4a" stroke-width="1"/>
<rect x="103.6" y="507.9" width="6.1" height="11.6" fill="#b2001e" stroke="#4a000c" stroke-width="0.9"/>
<rect x="103.6" y="526.7" width="6.1" height="11.6" fill="#72bb48" stroke="#132808" stroke-width="0.9"/>
<rect x="103.6" y="545.6" width="6.1" height="11.2" fill="#27418a" stroke="#101a3a" stroke-width="0.9"/>
<line x1="78.9" y1="570.8" x2="110.0" y2="570.8" stroke="#bdbcc6" stroke-width="3"/>
<circle cx="106.6" cy="589.7" r="0.85" fill="#222"/>
<text x="113.7" y="516.4" font-size="8.4" textLength="55.0" lengthAdjust="spacingAndGlyphs" fill="#1a1a1a" stroke="#1a1a1a" stroke-width="0.1">Shared mutation</text>
<text x="113.7" y="535.1" font-size="8.4" textLength="56.5" lengthAdjust="spacingAndGlyphs" fill="#1a1a1a" stroke="#1a1a1a" stroke-width="0.1">Private mutation</text>
<text x="113.7" y="554.2" font-size="8.4" textLength="90.7" lengthAdjust="spacingAndGlyphs" fill="#1a1a1a" stroke="#1a1a1a" stroke-width="0.1">Private and driver mutation</text>
<text x="113.7" y="573.1" font-size="8.4" textLength="106.0" lengthAdjust="spacingAndGlyphs" fill="#1a1a1a" stroke="#1a1a1a" stroke-width="0.1">Clone size estimated from CNV</text>
<text x="113.7" y="592.1" font-size="8.4" textLength="96.3" lengthAdjust="spacingAndGlyphs" fill="#1a1a1a" stroke="#1a1a1a" stroke-width="0.1">Mutation in region with CNV</text>
</g>
</svg>
<svg id="f" width="520" height="612" viewBox="0 0 520 612">
<rect x="0.5" y="0.5" width="519" height="611" fill="none" stroke="#000" stroke-width="1"/>
<line x1="1.5" y1="1" x2="1.5" y2="611" stroke="#888" stroke-width="1"/>
<line x1="1" y1="1.5" x2="519" y2="1.5" stroke="#ddd" stroke-width="1"/>
<line x1="518.5" y1="1" x2="518.5" y2="611" stroke="#999" stroke-width="1"/>
<line x1="1" y1="610.5" x2="519" y2="610.5" stroke="#999" stroke-width="1"/>
</svg>
</body></html>
